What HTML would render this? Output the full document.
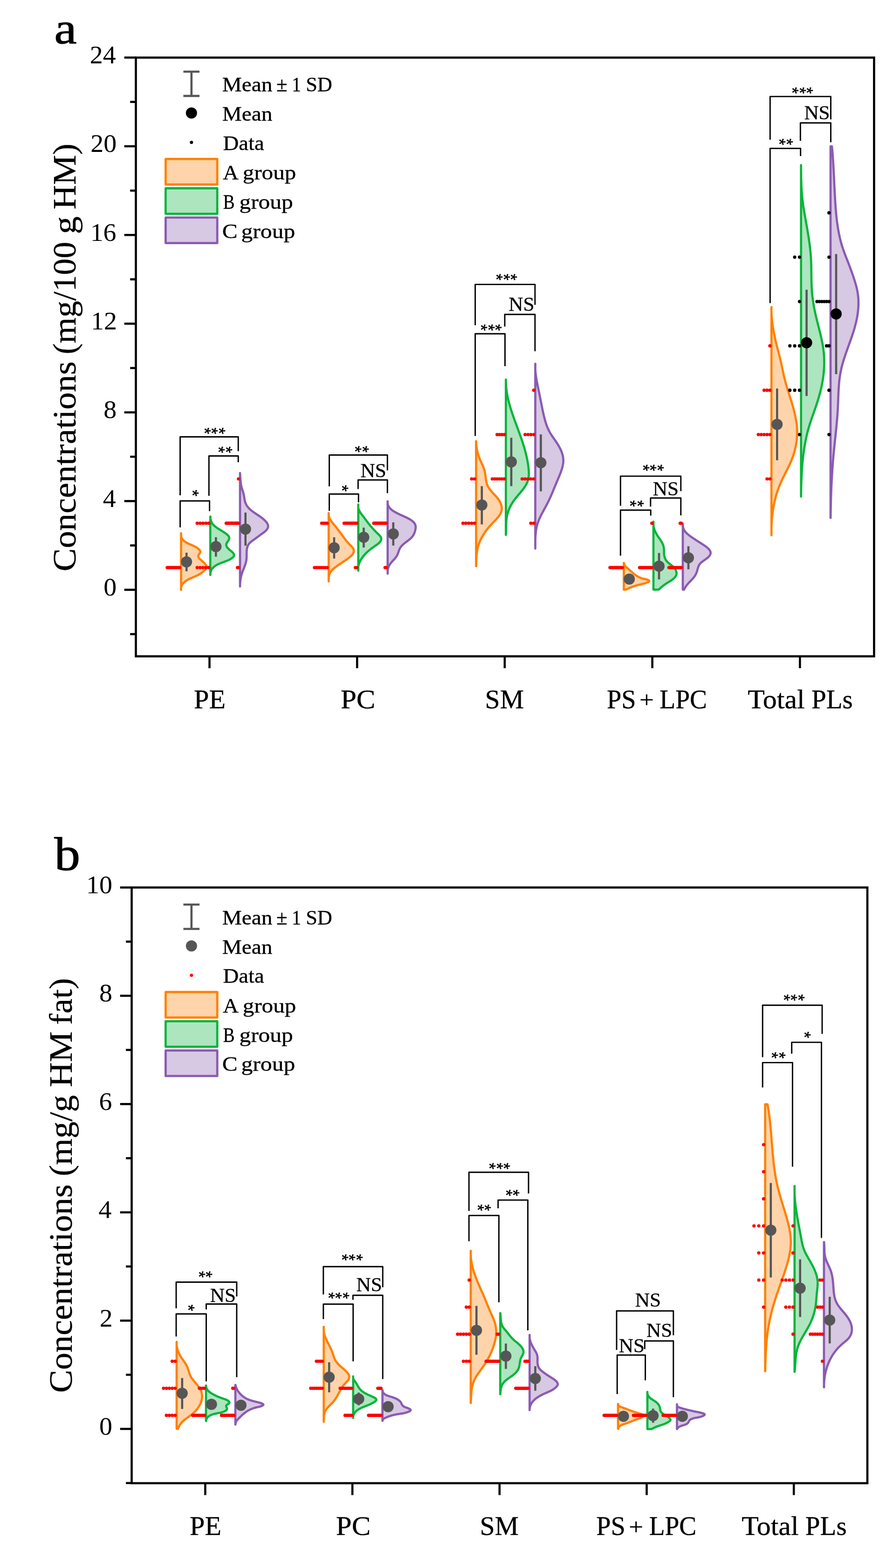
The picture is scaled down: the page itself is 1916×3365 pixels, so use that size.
<!DOCTYPE html>
<html lang="en"><head><meta charset="utf-8"><title>Phospholipid concentrations</title>
<style>html,body{margin:0;padding:0;background:#fff}svg{display:block}text{white-space:pre}</style></head>
<body>
<svg width="1916" height="3365" viewBox="0 0 1916 3365" font-family='"Liberation Serif", serif' fill="#000">
<rect width="1916" height="3365" fill="#fff"/>
<path d="M388.61,1144.3 388.5,1146.56 388.5,1148.7 388.55,1150.73 389.06,1152.64 389.81,1154.44 390.77,1156.14 391.91,1157.73 393.22,1159.21 394.66,1160.6 396.22,1161.89 397.88,1163.08 399.6,1164.18 401.37,1165.19 403.18,1166.13 405.03,1167.01 406.89,1167.84 408.77,1168.65 410.65,1169.44 412.53,1170.24 414.4,1171.05 416.24,1171.89 418.06,1172.79 419.84,1173.74 421.57,1174.78 423.25,1175.9 424.86,1177.14 426.41,1178.5 427.87,1180 429.17,1181.65 429.94,1183.4 429.74,1185.23 428.69,1187.08 427.34,1188.95 426.19,1190.8 425.49,1192.61 425.42,1194.37 425.97,1196.06 427.02,1197.69 428.41,1199.25 430.02,1200.75 431.7,1202.19 433.32,1203.57 434.78,1204.9 436.15,1206.22 437.48,1207.58 438.83,1209.03 440.26,1210.6 441.79,1212.32 443.11,1214.15 443.87,1216 443.75,1217.81 442.89,1219.54 441.58,1221.2 440.12,1222.76 438.62,1224.24 437.11,1225.65 435.56,1226.97 433.99,1228.22 432.39,1229.41 430.75,1230.54 429.09,1231.61 427.38,1232.62 425.65,1233.6 423.88,1234.53 422.07,1235.42 420.22,1236.29 418.33,1237.13 416.42,1237.95 414.5,1238.77 412.57,1239.59 410.64,1240.42 408.73,1241.26 406.83,1242.14 404.97,1243.05 403.16,1244 401.39,1245 399.69,1246.07 398.06,1247.2 396.5,1248.42 395.04,1249.72 393.68,1251.11 392.43,1252.61 391.29,1254.22 390.29,1255.96 389.44,1257.81 388.8,1259.75 388.5,1261.77 388.5,1263.84 388.61,1265.93 L388.5,1265.93 L388.5,1144.3 Z" fill="#ffd4ab" stroke="#ff8000" stroke-width="4.7" stroke-linejoin="round"/>
<circle cx="385.2" cy="1218.11" r="3.6" fill="#f00"/>
<circle cx="383" cy="1218.11" r="3.6" fill="#f00"/>
<circle cx="380.8" cy="1218.11" r="3.6" fill="#f00"/>
<circle cx="378.6" cy="1218.11" r="3.6" fill="#f00"/>
<circle cx="376.4" cy="1218.11" r="3.6" fill="#f00"/>
<circle cx="374.2" cy="1218.11" r="3.6" fill="#f00"/>
<circle cx="372" cy="1218.11" r="3.6" fill="#f00"/>
<circle cx="369.8" cy="1218.11" r="3.6" fill="#f00"/>
<circle cx="367.6" cy="1218.11" r="3.6" fill="#f00"/>
<circle cx="365.4" cy="1218.11" r="3.6" fill="#f00"/>
<circle cx="363.2" cy="1218.11" r="3.6" fill="#f00"/>
<circle cx="361" cy="1218.11" r="3.6" fill="#f00"/>
<circle cx="358.8" cy="1218.11" r="3.6" fill="#f00"/>
<line x1="400.2" y1="1186" x2="400.2" y2="1226" stroke="#565656" stroke-width="4.6" stroke-linecap="butt"/>
<circle cx="400.2" cy="1205.8" r="12" fill="#565656"/>
<path d="M451.47,1108.49 451.43,1110.81 451.58,1112.99 451.9,1115.06 452.39,1117.02 453.03,1118.87 453.82,1120.62 454.75,1122.27 455.8,1123.84 456.97,1125.34 458.24,1126.76 459.62,1128.12 461.08,1129.42 462.62,1130.67 464.22,1131.88 465.89,1133.05 467.6,1134.2 469.36,1135.32 471.14,1136.43 472.94,1137.53 474.75,1138.63 476.56,1139.74 478.36,1140.86 480.14,1142.01 481.88,1143.18 483.59,1144.38 485.26,1145.63 486.86,1146.93 488.39,1148.28 489.78,1149.71 490.9,1151.23 491.64,1152.87 491.87,1154.64 491.55,1156.54 490.81,1158.5 489.77,1160.45 488.53,1162.33 487.29,1164.14 486.24,1165.91 485.59,1167.68 485.44,1169.45 485.76,1171.22 486.48,1172.97 487.53,1174.69 488.83,1176.36 490.33,1177.96 491.95,1179.49 493.62,1180.92 495.28,1182.26 496.89,1183.57 498.41,1184.91 499.8,1186.35 501.03,1187.94 502,1189.73 502.42,1191.58 501.97,1193.32 500.79,1194.91 499.24,1196.36 497.6,1197.67 495.91,1198.86 494.2,1199.94 492.45,1200.93 490.67,1201.83 488.86,1202.66 487.03,1203.43 485.17,1204.16 483.3,1204.86 481.4,1205.54 479.5,1206.21 477.58,1206.89 475.65,1207.6 473.71,1208.34 471.78,1209.12 469.85,1209.96 467.94,1210.85 466.07,1211.8 464.26,1212.82 462.5,1213.91 460.83,1215.07 459.25,1216.31 457.77,1217.63 456.41,1219.03 455.18,1220.53 454.1,1222.12 453.18,1223.81 452.44,1225.61 451.88,1227.51 451.52,1229.52 451.38,1231.65 451.47,1233.9 L451.2,1233.9 L451.2,1108.49 Z" fill="#ade5bf" stroke="#0ab43c" stroke-width="4.7" stroke-linejoin="round"/>
<circle cx="447.9" cy="1122.93" r="3.6" fill="#f00"/>
<circle cx="441.7" cy="1122.93" r="3.6" fill="#f00"/>
<circle cx="435.5" cy="1122.93" r="3.6" fill="#f00"/>
<circle cx="429.3" cy="1122.93" r="3.6" fill="#f00"/>
<circle cx="423.1" cy="1122.93" r="3.6" fill="#f00"/>
<circle cx="447.9" cy="1218.11" r="3.6" fill="#f00"/>
<circle cx="441.7" cy="1218.11" r="3.6" fill="#f00"/>
<circle cx="435.5" cy="1218.11" r="3.6" fill="#f00"/>
<circle cx="429.3" cy="1218.11" r="3.6" fill="#f00"/>
<circle cx="423.1" cy="1218.11" r="3.6" fill="#f00"/>
<line x1="463.3" y1="1152.9" x2="463.3" y2="1194.6" stroke="#565656" stroke-width="4.6" stroke-linecap="butt"/>
<circle cx="463.3" cy="1173" r="12" fill="#565656"/>
<path d="M515,1015.11 515.06,1017.1 515.18,1019.11 515.3,1021.12 515.43,1023.14 515.56,1025.16 515.7,1027.18 515.86,1029.2 516.04,1031.22 516.24,1033.24 516.48,1035.25 516.75,1037.25 517.07,1039.24 517.43,1041.23 517.84,1043.2 518.3,1045.15 518.82,1047.09 519.39,1049.01 519.98,1050.93 520.59,1052.85 521.19,1054.77 521.76,1056.7 522.3,1058.64 522.78,1060.6 523.19,1062.59 523.55,1064.59 523.88,1066.6 524.2,1068.61 524.53,1070.62 524.9,1072.62 525.31,1074.59 525.8,1076.54 526.37,1078.45 527.06,1080.32 527.88,1082.14 528.84,1083.91 529.92,1085.61 531.1,1087.26 532.37,1088.83 533.7,1090.34 535.09,1091.78 536.53,1093.16 538.02,1094.49 539.56,1095.77 541.13,1097.01 542.74,1098.22 544.37,1099.39 546.03,1100.54 547.71,1101.68 549.4,1102.8 551.1,1103.92 552.8,1105.04 554.5,1106.17 556.2,1107.31 557.88,1108.47 559.55,1109.66 561.2,1110.88 562.82,1112.13 564.41,1113.43 565.96,1114.78 567.48,1116.19 568.95,1117.65 570.36,1119.19 571.68,1120.79 572.87,1122.44 573.86,1124.13 574.63,1125.87 575.12,1127.63 575.28,1129.42 575.08,1131.21 574.54,1132.99 573.7,1134.72 572.62,1136.37 571.32,1137.93 569.85,1139.42 568.25,1140.83 566.55,1142.18 564.8,1143.49 563.04,1144.75 561.3,1145.98 559.62,1147.18 557.99,1148.37 556.4,1149.55 554.84,1150.72 553.28,1151.88 551.73,1153.05 550.16,1154.22 548.56,1155.4 546.91,1156.59 545.21,1157.8 543.47,1159.03 541.72,1160.3 540,1161.6 538.33,1162.95 536.75,1164.35 535.3,1165.81 534,1167.35 532.88,1168.95 531.95,1170.63 531.19,1172.38 530.58,1174.19 530.1,1176.05 529.75,1177.96 529.49,1179.91 529.32,1181.9 529.22,1183.92 529.17,1185.96 529.15,1188.02 529.14,1190.09 529.14,1192.17 529.11,1194.24 529.05,1196.3 528.94,1198.35 528.76,1200.37 528.49,1202.37 528.14,1204.35 527.71,1206.29 527.21,1208.22 526.64,1210.13 526.03,1212.02 525.38,1213.9 524.69,1215.77 523.97,1217.63 523.24,1219.49 522.5,1221.36 521.77,1223.22 521.04,1225.09 520.33,1226.97 519.65,1228.86 519.01,1230.77 518.42,1232.7 517.87,1234.64 517.38,1236.61 516.94,1238.59 516.55,1240.59 516.2,1242.59 515.9,1244.6 515.65,1246.62 515.44,1248.64 515.26,1250.66 515.13,1252.68 515.03,1254.69 515,1256.69 515,1258.68 L515,1258.68 L515,1015.11 Z" fill="#d7c8e3" stroke="#8a5bb0" stroke-width="4.7" stroke-linejoin="round"/>
<circle cx="511.7" cy="1027.75" r="3.6" fill="#f00"/>
<circle cx="511.7" cy="1122.93" r="3.6" fill="#f00"/>
<circle cx="509.5" cy="1122.93" r="3.6" fill="#f00"/>
<circle cx="507.3" cy="1122.93" r="3.6" fill="#f00"/>
<circle cx="505.1" cy="1122.93" r="3.6" fill="#f00"/>
<circle cx="502.9" cy="1122.93" r="3.6" fill="#f00"/>
<circle cx="500.7" cy="1122.93" r="3.6" fill="#f00"/>
<circle cx="498.5" cy="1122.93" r="3.6" fill="#f00"/>
<circle cx="496.3" cy="1122.93" r="3.6" fill="#f00"/>
<circle cx="494.1" cy="1122.93" r="3.6" fill="#f00"/>
<circle cx="491.9" cy="1122.93" r="3.6" fill="#f00"/>
<circle cx="489.7" cy="1122.93" r="3.6" fill="#f00"/>
<circle cx="487.5" cy="1122.93" r="3.6" fill="#f00"/>
<circle cx="485.3" cy="1122.93" r="3.6" fill="#f00"/>
<circle cx="511.7" cy="1218.11" r="3.6" fill="#f00"/>
<circle cx="509.5" cy="1218.11" r="3.6" fill="#f00"/>
<line x1="526.7" y1="1100" x2="526.7" y2="1171" stroke="#565656" stroke-width="4.6" stroke-linecap="butt"/>
<circle cx="526.7" cy="1135.6" r="12" fill="#565656"/>
<path d="M705.2,1101.1 705.2,1103.3 705.2,1105.4 705.48,1107.41 705.98,1109.35 706.64,1111.21 707.44,1113.01 708.37,1114.76 709.4,1116.46 710.52,1118.12 711.72,1119.75 712.96,1121.36 714.24,1122.96 715.54,1124.55 716.84,1126.14 718.14,1127.74 719.44,1129.34 720.73,1130.94 722.01,1132.55 723.29,1134.16 724.55,1135.77 725.81,1137.38 727.06,1139 728.29,1140.62 729.51,1142.23 730.72,1143.85 731.91,1145.47 733.08,1147.08 734.24,1148.7 735.4,1150.32 736.55,1151.93 737.71,1153.54 738.88,1155.14 740.07,1156.75 741.28,1158.34 742.52,1159.94 743.8,1161.52 745.13,1163.1 746.5,1164.67 747.93,1166.23 749.42,1167.79 750.95,1169.33 752.49,1170.88 753.98,1172.44 755.37,1174.01 756.62,1175.61 757.67,1177.23 758.47,1178.9 758.99,1180.61 759.16,1182.38 758.98,1184.19 758.47,1185.99 757.68,1187.76 756.63,1189.44 755.36,1191.05 753.91,1192.57 752.33,1194.03 750.66,1195.42 748.93,1196.77 747.19,1198.06 745.46,1199.32 743.75,1200.54 742.05,1201.73 740.36,1202.89 738.69,1204.04 737.02,1205.16 735.36,1206.28 733.71,1207.39 732.06,1208.49 730.42,1209.6 728.77,1210.71 727.13,1211.84 725.49,1212.97 723.84,1214.13 722.19,1215.32 720.54,1216.53 718.89,1217.78 717.27,1219.07 715.68,1220.4 714.16,1221.79 712.7,1223.23 711.34,1224.73 710.08,1226.31 708.95,1227.96 707.96,1229.69 707.13,1231.51 706.47,1233.42 705.97,1235.4 705.61,1237.44 705.37,1239.52 705.22,1241.6 705.2,1243.67 705.2,1245.7 705.2,1247.66 L705.2,1247.66 L705.2,1101.1 Z" fill="#ffd4ab" stroke="#ff8000" stroke-width="4.7" stroke-linejoin="round"/>
<circle cx="701.9" cy="1122.93" r="3.6" fill="#f00"/>
<circle cx="698.03" cy="1122.93" r="3.6" fill="#f00"/>
<circle cx="694.15" cy="1122.93" r="3.6" fill="#f00"/>
<circle cx="690.28" cy="1122.93" r="3.6" fill="#f00"/>
<circle cx="701.9" cy="1218.11" r="3.6" fill="#f00"/>
<circle cx="698.03" cy="1218.11" r="3.6" fill="#f00"/>
<circle cx="694.15" cy="1218.11" r="3.6" fill="#f00"/>
<circle cx="690.28" cy="1218.11" r="3.6" fill="#f00"/>
<circle cx="686.4" cy="1218.11" r="3.6" fill="#f00"/>
<circle cx="682.53" cy="1218.11" r="3.6" fill="#f00"/>
<circle cx="678.65" cy="1218.11" r="3.6" fill="#f00"/>
<circle cx="674.78" cy="1218.11" r="3.6" fill="#f00"/>
<line x1="716.9" y1="1153" x2="716.9" y2="1198.7" stroke="#565656" stroke-width="4.6" stroke-linecap="butt"/>
<circle cx="716.9" cy="1175.6" r="12" fill="#565656"/>
<path d="M768.7,1082.66 768.7,1084.89 768.7,1087.02 768.7,1089.07 769,1091.03 769.6,1092.93 770.34,1094.76 771.2,1096.54 772.16,1098.28 773.22,1099.97 774.34,1101.64 775.52,1103.29 776.74,1104.92 777.98,1106.55 779.23,1108.18 780.48,1109.82 781.71,1111.46 782.95,1113.12 784.18,1114.77 785.4,1116.43 786.63,1118.08 787.86,1119.72 789.09,1121.35 790.33,1122.98 791.58,1124.58 792.83,1126.17 794.1,1127.73 795.37,1129.28 796.67,1130.79 797.97,1132.29 799.3,1133.78 800.65,1135.25 802.02,1136.71 803.41,1138.17 804.83,1139.63 806.28,1141.09 807.76,1142.55 809.26,1144.03 810.81,1145.51 812.37,1147.02 813.89,1148.54 815.29,1150.1 816.48,1151.71 817.4,1153.36 817.95,1155.08 818.06,1156.86 817.69,1158.71 816.93,1160.54 815.86,1162.3 814.57,1163.92 813.1,1165.39 811.51,1166.76 809.83,1168.05 808.09,1169.27 806.34,1170.48 804.6,1171.67 802.89,1172.87 801.19,1174.07 799.53,1175.28 797.88,1176.5 796.26,1177.73 794.66,1178.98 793.09,1180.24 791.54,1181.53 790.02,1182.84 788.52,1184.18 787.05,1185.55 785.61,1186.96 784.19,1188.4 782.81,1189.88 781.45,1191.4 780.13,1192.96 778.85,1194.56 777.62,1196.19 776.44,1197.86 775.32,1199.57 774.26,1201.32 773.26,1203.1 772.34,1204.91 771.5,1206.75 770.74,1208.63 770.07,1210.54 769.49,1212.48 769.01,1214.45 768.7,1216.44 768.7,1218.47 768.7,1220.52 768.7,1222.6 768.7,1224.7 L768.7,1224.7 L768.7,1082.66 Z" fill="#ade5bf" stroke="#0ab43c" stroke-width="4.7" stroke-linejoin="round"/>
<circle cx="765.4" cy="1122.93" r="3.6" fill="#f00"/>
<circle cx="762.4" cy="1122.93" r="3.6" fill="#f00"/>
<circle cx="759.4" cy="1122.93" r="3.6" fill="#f00"/>
<circle cx="756.4" cy="1122.93" r="3.6" fill="#f00"/>
<circle cx="753.4" cy="1122.93" r="3.6" fill="#f00"/>
<circle cx="750.4" cy="1122.93" r="3.6" fill="#f00"/>
<circle cx="747.4" cy="1122.93" r="3.6" fill="#f00"/>
<circle cx="744.4" cy="1122.93" r="3.6" fill="#f00"/>
<circle cx="741.4" cy="1122.93" r="3.6" fill="#f00"/>
<circle cx="738.4" cy="1122.93" r="3.6" fill="#f00"/>
<circle cx="765.4" cy="1218.11" r="3.6" fill="#f00"/>
<circle cx="762.4" cy="1218.11" r="3.6" fill="#f00"/>
<line x1="780.4" y1="1132.3" x2="780.4" y2="1175" stroke="#565656" stroke-width="4.6" stroke-linecap="butt"/>
<circle cx="780.4" cy="1153" r="12" fill="#565656"/>
<path d="M831.73,1075.87 831.7,1078.12 831.7,1080.26 832.04,1082.28 832.62,1084.19 833.41,1086 834.38,1087.7 835.53,1089.31 836.82,1090.83 838.25,1092.26 839.78,1093.61 841.4,1094.89 843.09,1096.1 844.83,1097.24 846.6,1098.33 848.39,1099.36 850.18,1100.35 851.97,1101.29 853.78,1102.2 855.58,1103.07 857.4,1103.93 859.22,1104.77 861.04,1105.6 862.88,1106.42 864.72,1107.25 866.57,1108.08 868.42,1108.93 870.29,1109.81 872.16,1110.71 874.04,1111.64 875.93,1112.61 877.81,1113.63 879.66,1114.7 881.46,1115.83 883.19,1117.02 884.82,1118.27 886.34,1119.6 887.71,1121 888.93,1122.48 889.97,1124.05 890.8,1125.72 891.41,1127.48 891.77,1129.34 891.88,1131.31 891.77,1133.35 891.47,1135.43 891.03,1137.53 890.49,1139.62 889.86,1141.67 889.15,1143.67 888.33,1145.6 887.41,1147.47 886.37,1149.24 885.21,1150.91 883.94,1152.5 882.58,1154 881.14,1155.43 879.62,1156.8 878.05,1158.13 876.44,1159.41 874.8,1160.67 873.15,1161.9 871.49,1163.14 869.85,1164.37 868.23,1165.62 866.64,1166.89 865.11,1168.2 863.64,1169.55 862.25,1170.96 860.96,1172.44 859.76,1173.99 858.69,1175.63 857.74,1177.37 856.92,1179.19 856.18,1181.09 855.49,1183.03 854.82,1184.99 854.14,1186.94 853.4,1188.87 852.58,1190.75 851.64,1192.55 850.57,1194.28 849.41,1195.95 848.17,1197.56 846.86,1199.13 845.51,1200.67 844.13,1202.19 842.74,1203.7 841.36,1205.21 840.01,1206.74 838.71,1208.29 837.47,1209.88 836.32,1211.52 835.27,1213.21 834.35,1214.97 833.56,1216.81 832.93,1218.74 832.45,1220.74 832.1,1222.79 831.87,1224.87 831.74,1226.95 831.7,1229.02 831.73,1231.04 L831.7,1231.04 L831.7,1075.87 Z" fill="#d7c8e3" stroke="#8a5bb0" stroke-width="4.7" stroke-linejoin="round"/>
<circle cx="828.4" cy="1122.93" r="3.6" fill="#f00"/>
<circle cx="826.2" cy="1122.93" r="3.6" fill="#f00"/>
<circle cx="824" cy="1122.93" r="3.6" fill="#f00"/>
<circle cx="821.8" cy="1122.93" r="3.6" fill="#f00"/>
<circle cx="819.6" cy="1122.93" r="3.6" fill="#f00"/>
<circle cx="817.4" cy="1122.93" r="3.6" fill="#f00"/>
<circle cx="815.2" cy="1122.93" r="3.6" fill="#f00"/>
<circle cx="813" cy="1122.93" r="3.6" fill="#f00"/>
<circle cx="810.8" cy="1122.93" r="3.6" fill="#f00"/>
<circle cx="808.6" cy="1122.93" r="3.6" fill="#f00"/>
<circle cx="806.4" cy="1122.93" r="3.6" fill="#f00"/>
<circle cx="804.2" cy="1122.93" r="3.6" fill="#f00"/>
<circle cx="802" cy="1122.93" r="3.6" fill="#f00"/>
<circle cx="828.4" cy="1218.11" r="3.6" fill="#f00"/>
<circle cx="826.2" cy="1218.11" r="3.6" fill="#f00"/>
<line x1="843.8" y1="1121" x2="843.8" y2="1170.8" stroke="#565656" stroke-width="4.6" stroke-linecap="butt"/>
<circle cx="843.8" cy="1145.8" r="12" fill="#565656"/>
<path d="M1021.62,946.79 1021.65,948.82 1021.71,950.84 1021.83,952.86 1021.98,954.88 1022.18,956.89 1022.42,958.89 1022.71,960.89 1023.03,962.88 1023.39,964.86 1023.8,966.84 1024.24,968.8 1024.72,970.76 1025.23,972.71 1025.78,974.64 1026.37,976.57 1027,978.49 1027.66,980.39 1028.35,982.28 1029.07,984.16 1029.83,986.03 1030.62,987.89 1031.43,989.73 1032.26,991.57 1033.1,993.4 1033.94,995.23 1034.77,997.07 1035.58,998.91 1036.37,1000.75 1037.13,1002.61 1037.85,1004.48 1038.52,1006.37 1039.13,1008.28 1039.68,1010.22 1040.16,1012.18 1040.57,1014.16 1040.92,1016.16 1041.23,1018.18 1041.51,1020.21 1041.77,1022.25 1042.01,1024.29 1042.27,1026.32 1042.54,1028.34 1042.84,1030.34 1043.18,1032.33 1043.57,1034.3 1044.03,1036.23 1044.56,1038.13 1045.19,1039.99 1045.92,1041.8 1046.75,1043.57 1047.69,1045.3 1048.72,1046.99 1049.82,1048.64 1051,1050.26 1052.24,1051.86 1053.54,1053.43 1054.88,1054.99 1056.25,1056.54 1057.64,1058.07 1059.06,1059.6 1060.47,1061.13 1061.89,1062.66 1063.29,1064.2 1064.67,1065.75 1066.01,1067.32 1067.32,1068.91 1068.58,1070.52 1069.77,1072.16 1070.9,1073.84 1071.94,1075.55 1072.9,1077.3 1073.77,1079.09 1074.53,1080.92 1075.18,1082.77 1075.71,1084.65 1076.12,1086.54 1076.4,1088.45 1076.55,1090.35 1076.55,1092.26 1076.4,1094.16 1076.09,1096.04 1075.62,1097.9 1074.98,1099.74 1074.18,1101.55 1073.25,1103.33 1072.19,1105.08 1071.03,1106.79 1069.78,1108.47 1068.48,1110.11 1067.12,1111.71 1065.73,1113.28 1064.3,1114.83 1062.86,1116.35 1061.41,1117.85 1059.96,1119.34 1058.52,1120.81 1057.09,1122.29 1055.69,1123.76 1054.32,1125.23 1052.96,1126.71 1051.63,1128.19 1050.32,1129.69 1049.03,1131.2 1047.75,1132.72 1046.49,1134.27 1045.25,1135.84 1044.03,1137.43 1042.83,1139.03 1041.65,1140.67 1040.49,1142.32 1039.36,1143.98 1038.26,1145.67 1037.18,1147.38 1036.13,1149.11 1035.1,1150.85 1034.12,1152.62 1033.16,1154.39 1032.24,1156.19 1031.35,1158 1030.5,1159.83 1029.69,1161.68 1028.92,1163.54 1028.19,1165.42 1027.5,1167.31 1026.86,1169.21 1026.26,1171.13 1025.71,1173.07 1025.2,1175.01 1024.75,1176.97 1024.34,1178.94 1023.97,1180.92 1023.64,1182.91 1023.35,1184.91 1023.1,1186.92 1022.87,1188.93 1022.68,1190.94 1022.51,1192.97 1022.36,1194.99 1022.24,1197.01 1022.13,1199.04 1022.04,1201.06 1021.97,1203.09 1021.9,1205.11 1021.84,1207.13 1021.78,1209.14 1021.73,1211.15 1021.68,1213.15 1021.62,1215.14 L1021.5,1215.14 L1021.5,946.79 Z" fill="#ffd4ab" stroke="#ff8000" stroke-width="4.7" stroke-linejoin="round"/>
<circle cx="1018.2" cy="1027.75" r="3.6" fill="#f00"/>
<circle cx="1012" cy="1027.75" r="3.6" fill="#f00"/>
<circle cx="1018.2" cy="1122.93" r="3.6" fill="#f00"/>
<circle cx="1012" cy="1122.93" r="3.6" fill="#f00"/>
<circle cx="1005.8" cy="1122.93" r="3.6" fill="#f00"/>
<circle cx="999.6" cy="1122.93" r="3.6" fill="#f00"/>
<circle cx="993.4" cy="1122.93" r="3.6" fill="#f00"/>
<line x1="1033.8" y1="1043.3" x2="1033.8" y2="1125.4" stroke="#565656" stroke-width="4.6" stroke-linecap="butt"/>
<circle cx="1033.8" cy="1083.7" r="12" fill="#565656"/>
<path d="M1085.4,814.57 1085.4,816.63 1085.4,818.68 1085.43,820.72 1085.5,822.76 1085.6,824.8 1085.72,826.82 1085.87,828.85 1086.04,830.86 1086.24,832.87 1086.46,834.88 1086.7,836.88 1086.96,838.88 1087.25,840.88 1087.56,842.86 1087.89,844.85 1088.24,846.83 1088.6,848.8 1088.99,850.78 1089.4,852.75 1089.82,854.71 1090.26,856.67 1090.72,858.63 1091.2,860.58 1091.69,862.53 1092.19,864.48 1092.71,866.42 1093.25,868.37 1093.8,870.3 1094.36,872.24 1094.93,874.17 1095.52,876.1 1096.11,878.03 1096.72,879.96 1097.34,881.88 1097.96,883.8 1098.6,885.72 1099.24,887.64 1099.9,889.56 1100.56,891.47 1101.22,893.39 1101.9,895.3 1102.57,897.21 1103.26,899.12 1103.95,901.03 1104.64,902.93 1105.34,904.84 1106.03,906.75 1106.74,908.65 1107.44,910.56 1108.14,912.46 1108.85,914.37 1109.55,916.27 1110.26,918.18 1110.96,920.08 1111.66,921.99 1112.36,923.89 1113.06,925.8 1113.76,927.7 1114.45,929.61 1115.14,931.52 1115.82,933.43 1116.5,935.34 1117.18,937.25 1117.85,939.16 1118.51,941.07 1119.16,942.99 1119.81,944.91 1120.46,946.83 1121.09,948.75 1121.72,950.67 1122.34,952.59 1122.95,954.52 1123.54,956.45 1124.13,958.38 1124.71,960.31 1125.28,962.25 1125.84,964.19 1126.38,966.13 1126.92,968.08 1127.44,970.02 1127.94,971.97 1128.44,973.93 1128.92,975.89 1129.38,977.85 1129.83,979.81 1130.27,981.78 1130.68,983.75 1131.09,985.73 1131.47,987.71 1131.84,989.7 1132.19,991.68 1132.53,993.68 1132.84,995.68 1133.14,997.68 1133.42,999.69 1133.67,1001.7 1133.91,1003.72 1134.13,1005.74 1134.32,1007.76 1134.48,1009.79 1134.61,1011.82 1134.69,1013.85 1134.73,1015.87 1134.71,1017.88 1134.63,1019.88 1134.48,1021.87 1134.26,1023.85 1133.95,1025.81 1133.56,1027.75 1133.08,1029.67 1132.52,1031.56 1131.87,1033.43 1131.14,1035.28 1130.34,1037.1 1129.46,1038.9 1128.51,1040.66 1127.49,1042.41 1126.41,1044.12 1125.28,1045.82 1124.11,1047.49 1122.9,1049.14 1121.65,1050.78 1120.38,1052.39 1119.08,1053.99 1117.77,1055.58 1116.45,1057.16 1115.12,1058.73 1113.78,1060.3 1112.45,1061.87 1111.12,1063.44 1109.81,1065.01 1108.5,1066.59 1107.22,1068.17 1105.96,1069.77 1104.72,1071.38 1103.5,1073.01 1102.32,1074.65 1101.17,1076.31 1100.05,1078 1098.98,1079.7 1097.93,1081.42 1096.93,1083.16 1095.97,1084.92 1095.04,1086.7 1094.16,1088.5 1093.32,1090.32 1092.52,1092.15 1091.77,1094.01 1091.06,1095.88 1090.39,1097.76 1089.78,1099.67 1089.2,1101.59 1088.68,1103.52 1088.21,1105.47 1087.78,1107.44 1087.41,1109.42 1087.09,1111.42 1086.82,1113.43 1086.59,1115.45 1086.41,1117.48 1086.26,1119.52 1086.15,1121.56 1086.06,1123.61 1085.99,1125.67 1085.94,1127.72 1085.91,1129.77 1085.88,1131.82 1085.86,1133.87 1085.83,1135.91 1085.8,1137.94 1085.76,1139.96 1085.7,1141.96 1085.62,1143.96 1085.52,1145.94 1085.4,1147.9 L1085.4,1147.9 L1085.4,814.57 Z" fill="#ade5bf" stroke="#0ab43c" stroke-width="4.7" stroke-linejoin="round"/>
<circle cx="1082.1" cy="932.57" r="3.6" fill="#f00"/>
<circle cx="1076.93" cy="932.57" r="3.6" fill="#f00"/>
<circle cx="1071.77" cy="932.57" r="3.6" fill="#f00"/>
<circle cx="1066.6" cy="932.57" r="3.6" fill="#f00"/>
<circle cx="1082.1" cy="1027.75" r="3.6" fill="#f00"/>
<circle cx="1076.93" cy="1027.75" r="3.6" fill="#f00"/>
<circle cx="1071.77" cy="1027.75" r="3.6" fill="#f00"/>
<circle cx="1066.6" cy="1027.75" r="3.6" fill="#f00"/>
<circle cx="1061.43" cy="1027.75" r="3.6" fill="#f00"/>
<circle cx="1056.27" cy="1027.75" r="3.6" fill="#f00"/>
<line x1="1097" y1="939.4" x2="1097" y2="1043.3" stroke="#565656" stroke-width="4.6" stroke-linecap="butt"/>
<circle cx="1097" cy="991.3" r="12" fill="#565656"/>
<path d="M1148.5,780.58 1148.5,782.61 1148.5,784.64 1148.5,786.67 1148.5,788.69 1148.5,790.71 1148.5,792.72 1148.62,794.73 1148.78,796.74 1148.97,798.74 1149.17,800.74 1149.4,802.74 1149.65,804.73 1149.92,806.72 1150.2,808.7 1150.5,810.69 1150.82,812.67 1151.15,814.65 1151.5,816.63 1151.85,818.6 1152.22,820.58 1152.6,822.55 1152.99,824.52 1153.38,826.5 1153.78,828.47 1154.19,830.44 1154.6,832.4 1155.01,834.37 1155.42,836.34 1155.84,838.31 1156.25,840.28 1156.67,842.25 1157.08,844.22 1157.49,846.19 1157.89,848.16 1158.29,850.14 1158.68,852.11 1159.07,854.08 1159.46,856.06 1159.85,858.04 1160.23,860.01 1160.62,861.99 1161,863.96 1161.38,865.94 1161.77,867.92 1162.16,869.89 1162.55,871.87 1162.95,873.84 1163.34,875.81 1163.75,877.79 1164.16,879.76 1164.58,881.73 1165,883.7 1165.43,885.66 1165.87,887.63 1166.32,889.59 1166.78,891.55 1167.26,893.51 1167.74,895.47 1168.23,897.42 1168.74,899.38 1169.27,901.32 1169.81,903.26 1170.38,905.19 1170.96,907.12 1171.57,909.03 1172.21,910.94 1172.88,912.83 1173.57,914.71 1174.3,916.57 1175.06,918.42 1175.86,920.25 1176.69,922.07 1177.57,923.86 1178.49,925.64 1179.45,927.39 1180.45,929.13 1181.49,930.85 1182.56,932.55 1183.65,934.24 1184.77,935.92 1185.91,937.6 1187.06,939.27 1188.22,940.94 1189.38,942.6 1190.55,944.27 1191.71,945.95 1192.87,947.63 1194.01,949.32 1195.14,951.02 1196.24,952.73 1197.32,954.47 1198.37,956.22 1199.39,957.98 1200.38,959.77 1201.32,961.57 1202.22,963.39 1203.08,965.22 1203.89,967.06 1204.64,968.92 1205.34,970.79 1205.99,972.68 1206.57,974.57 1207.09,976.47 1207.54,978.39 1207.92,980.31 1208.22,982.24 1208.45,984.18 1208.6,986.12 1208.67,988.07 1208.64,990.02 1208.53,991.98 1208.34,993.94 1208.06,995.9 1207.72,997.86 1207.31,999.82 1206.85,1001.78 1206.34,1003.72 1205.79,1005.66 1205.2,1007.6 1204.57,1009.52 1203.91,1011.44 1203.22,1013.36 1202.51,1015.27 1201.78,1017.17 1201.02,1019.07 1200.25,1020.96 1199.47,1022.85 1198.68,1024.74 1197.88,1026.62 1197.08,1028.5 1196.28,1030.37 1195.49,1032.25 1194.7,1034.12 1193.92,1035.99 1193.14,1037.86 1192.37,1039.72 1191.6,1041.58 1190.83,1043.44 1190.07,1045.3 1189.3,1047.16 1188.54,1049.01 1187.77,1050.86 1187.01,1052.7 1186.24,1054.55 1185.47,1056.39 1184.69,1058.23 1183.9,1060.06 1183.11,1061.89 1182.32,1063.72 1181.51,1065.54 1180.7,1067.36 1179.87,1069.18 1179.04,1070.99 1178.19,1072.8 1177.33,1074.61 1176.45,1076.41 1175.56,1078.21 1174.66,1080 1173.74,1081.79 1172.8,1083.57 1171.85,1085.36 1170.89,1087.14 1169.92,1088.91 1168.95,1090.69 1167.98,1092.47 1167,1094.25 1166.03,1096.03 1165.06,1097.81 1164.1,1099.6 1163.15,1101.39 1162.21,1103.18 1161.29,1104.98 1160.39,1106.78 1159.5,1108.6 1158.64,1110.42 1157.81,1112.24 1157,1114.08 1156.22,1115.93 1155.47,1117.79 1154.76,1119.66 1154.09,1121.54 1153.46,1123.43 1152.87,1125.34 1152.33,1127.26 1151.83,1129.2 1151.39,1131.15 1150.98,1133.12 1150.62,1135.1 1150.29,1137.08 1150,1139.08 1149.75,1141.09 1149.52,1143.1 1149.33,1145.12 1149.16,1147.14 1149.02,1149.17 1148.9,1151.21 1148.8,1153.24 1148.71,1155.27 1148.65,1157.31 1148.59,1159.34 1148.54,1161.37 1148.5,1163.39 1148.5,1165.41 1148.5,1167.43 1148.5,1169.43 1148.5,1171.43 1148.5,1173.42 1148.5,1175.4 1148.5,1177.36 L1148.5,1177.36 L1148.5,780.58 Z" fill="#d7c8e3" stroke="#8a5bb0" stroke-width="4.7" stroke-linejoin="round"/>
<circle cx="1145.2" cy="837.39" r="3.6" fill="#f00"/>
<circle cx="1145.2" cy="932.57" r="3.6" fill="#f00"/>
<circle cx="1139" cy="932.57" r="3.6" fill="#f00"/>
<circle cx="1132.8" cy="932.57" r="3.6" fill="#f00"/>
<circle cx="1126.6" cy="932.57" r="3.6" fill="#f00"/>
<circle cx="1145.2" cy="1027.75" r="3.6" fill="#f00"/>
<circle cx="1139" cy="1027.75" r="3.6" fill="#f00"/>
<circle cx="1132.8" cy="1027.75" r="3.6" fill="#f00"/>
<circle cx="1126.6" cy="1027.75" r="3.6" fill="#f00"/>
<circle cx="1120.4" cy="1027.75" r="3.6" fill="#f00"/>
<circle cx="1145.2" cy="1122.93" r="3.6" fill="#f00"/>
<circle cx="1139" cy="1122.93" r="3.6" fill="#f00"/>
<line x1="1160.4" y1="932.3" x2="1160.4" y2="1054.4" stroke="#565656" stroke-width="4.6" stroke-linecap="butt"/>
<circle cx="1160.4" cy="992.9" r="12" fill="#565656"/>
<path d="M1338.6,1208.04 1339,1210.19 1339.75,1212.08 1340.79,1213.78 1342.05,1215.31 1343.47,1216.73 1344.99,1218.1 1346.55,1219.45 1348.1,1220.81 1349.63,1222.2 1351.17,1223.59 1352.69,1224.99 1354.22,1226.37 1355.76,1227.75 1357.3,1229.1 1358.86,1230.42 1360.44,1231.71 1362.03,1232.95 1363.66,1234.15 1365.31,1235.28 1367,1236.36 1368.72,1237.37 1370.49,1238.32 1372.3,1239.19 1374.16,1239.99 1376.08,1240.72 1378.06,1241.37 1380.1,1241.93 1382.2,1242.41 1384.34,1242.86 1386.47,1243.34 1388.54,1243.94 1390.5,1244.74 1392.2,1245.76 1393.03,1246.89 1392.47,1247.96 1390.9,1248.93 1388.99,1249.81 1387.05,1250.6 1385.09,1251.3 1383.11,1251.93 1381.11,1252.51 1379.11,1253.05 1377.09,1253.55 1375.08,1254.03 1373.07,1254.5 1371.07,1254.98 1369.08,1255.48 1367.1,1256.01 1365.13,1256.56 1363.18,1257.15 1361.24,1257.77 1359.32,1258.42 1357.4,1259.09 1355.49,1259.8 1353.6,1260.53 1351.71,1261.29 1349.83,1262.07 1347.96,1262.88 1346.09,1263.71 1344.23,1264.57 1342.38,1265.45 L1338.5,1265.45 L1338.5,1208.04 Z" fill="#ffd4ab" stroke="#ff8000" stroke-width="4.7" stroke-linejoin="round"/>
<circle cx="1335.2" cy="1218.11" r="3.6" fill="#f00"/>
<circle cx="1333" cy="1218.11" r="3.6" fill="#f00"/>
<circle cx="1330.8" cy="1218.11" r="3.6" fill="#f00"/>
<circle cx="1328.6" cy="1218.11" r="3.6" fill="#f00"/>
<circle cx="1326.4" cy="1218.11" r="3.6" fill="#f00"/>
<circle cx="1324.2" cy="1218.11" r="3.6" fill="#f00"/>
<circle cx="1322" cy="1218.11" r="3.6" fill="#f00"/>
<circle cx="1319.8" cy="1218.11" r="3.6" fill="#f00"/>
<circle cx="1317.6" cy="1218.11" r="3.6" fill="#f00"/>
<circle cx="1315.4" cy="1218.11" r="3.6" fill="#f00"/>
<circle cx="1313.2" cy="1218.11" r="3.6" fill="#f00"/>
<circle cx="1311" cy="1218.11" r="3.6" fill="#f00"/>
<circle cx="1308.8" cy="1218.11" r="3.6" fill="#f00"/>
<line x1="1350.2" y1="1233" x2="1350.2" y2="1252" stroke="#565656" stroke-width="4.6" stroke-linecap="butt"/>
<circle cx="1350.2" cy="1242.7" r="12" fill="#565656"/>
<path d="M1402,1119.64 1402,1121.75 1402,1123.83 1402,1125.88 1402.08,1127.9 1402.43,1129.89 1402.86,1131.85 1403.38,1133.79 1403.98,1135.71 1404.65,1137.6 1405.39,1139.47 1406.2,1141.31 1407.08,1143.13 1408.02,1144.93 1409.01,1146.71 1410.06,1148.47 1411.15,1150.22 1412.29,1151.94 1413.46,1153.66 1414.64,1155.36 1415.82,1157.07 1416.99,1158.78 1418.12,1160.51 1419.2,1162.25 1420.22,1164.01 1421.16,1165.79 1422.01,1167.61 1422.75,1169.47 1423.37,1171.37 1423.85,1173.31 1424.21,1175.3 1424.47,1177.32 1424.62,1179.37 1424.7,1181.43 1424.72,1183.51 1424.74,1185.59 1424.78,1187.66 1424.91,1189.7 1425.15,1191.7 1425.5,1193.67 1425.98,1195.59 1426.59,1197.46 1427.34,1199.26 1428.22,1201 1429.26,1202.67 1430.45,1204.25 1431.8,1205.76 1433.28,1207.2 1434.85,1208.58 1436.5,1209.93 1438.2,1211.26 1439.9,1212.59 1441.59,1213.93 1443.24,1215.3 1444.82,1216.71 1446.29,1218.19 1447.63,1219.75 1448.81,1221.4 1449.81,1223.14 1450.6,1224.97 1451.17,1226.84 1451.5,1228.74 1451.57,1230.64 1451.36,1232.51 1450.86,1234.33 1450.06,1236.08 1448.99,1237.75 1447.71,1239.33 1446.26,1240.83 1444.68,1242.24 1443.01,1243.57 1441.29,1244.82 1439.51,1246 1437.72,1247.15 1435.91,1248.26 1434.12,1249.35 1432.36,1250.44 1430.63,1251.53 1428.94,1252.63 1427.28,1253.75 1425.65,1254.89 1424.05,1256.06 1422.47,1257.26 1420.91,1258.5 1419.37,1259.78 1417.86,1261.11 1416.36,1262.5 1414.87,1263.94 1413.39,1265.45 L1402,1265.45 L1402,1119.64 Z" fill="#ade5bf" stroke="#0ab43c" stroke-width="4.7" stroke-linejoin="round"/>
<circle cx="1398.7" cy="1122.93" r="3.6" fill="#f00"/>
<circle cx="1398.7" cy="1218.11" r="3.6" fill="#f00"/>
<circle cx="1396.5" cy="1218.11" r="3.6" fill="#f00"/>
<circle cx="1394.3" cy="1218.11" r="3.6" fill="#f00"/>
<circle cx="1392.1" cy="1218.11" r="3.6" fill="#f00"/>
<circle cx="1389.9" cy="1218.11" r="3.6" fill="#f00"/>
<circle cx="1387.7" cy="1218.11" r="3.6" fill="#f00"/>
<circle cx="1385.5" cy="1218.11" r="3.6" fill="#f00"/>
<circle cx="1383.3" cy="1218.11" r="3.6" fill="#f00"/>
<circle cx="1381.1" cy="1218.11" r="3.6" fill="#f00"/>
<circle cx="1378.9" cy="1218.11" r="3.6" fill="#f00"/>
<circle cx="1376.7" cy="1218.11" r="3.6" fill="#f00"/>
<circle cx="1374.5" cy="1218.11" r="3.6" fill="#f00"/>
<circle cx="1372.3" cy="1218.11" r="3.6" fill="#f00"/>
<line x1="1414" y1="1186.7" x2="1414" y2="1243.5" stroke="#565656" stroke-width="4.6" stroke-linecap="butt"/>
<circle cx="1414" cy="1215" r="12" fill="#565656"/>
<path d="M1465.22,1124.18 1465.04,1126.45 1465.08,1128.63 1465.33,1130.7 1465.78,1132.67 1466.41,1134.56 1467.21,1136.36 1468.16,1138.08 1469.25,1139.72 1470.46,1141.29 1471.79,1142.81 1473.2,1144.26 1474.7,1145.65 1476.27,1147 1477.88,1148.31 1479.54,1149.58 1481.21,1150.81 1482.89,1152.02 1484.58,1153.2 1486.26,1154.36 1487.95,1155.5 1489.63,1156.63 1491.32,1157.74 1493.01,1158.85 1494.7,1159.94 1496.39,1161.03 1498.09,1162.12 1499.79,1163.2 1501.5,1164.29 1503.21,1165.38 1504.92,1166.48 1506.64,1167.58 1508.37,1168.7 1510.1,1169.84 1511.83,1171 1513.55,1172.19 1515.24,1173.44 1516.89,1174.76 1518.5,1176.17 1520.04,1177.67 1521.49,1179.28 1522.78,1180.98 1523.82,1182.75 1524.5,1184.53 1524.74,1186.32 1524.55,1188.08 1523.99,1189.81 1523.1,1191.5 1521.96,1193.13 1520.6,1194.7 1519.1,1196.19 1517.49,1197.58 1515.82,1198.9 1514.1,1200.16 1512.36,1201.38 1510.63,1202.58 1508.92,1203.78 1507.25,1204.99 1505.65,1206.24 1504.14,1207.55 1502.74,1208.94 1501.47,1210.42 1500.36,1212.02 1499.42,1213.74 1498.62,1215.57 1497.93,1217.48 1497.31,1219.46 1496.74,1221.47 1496.18,1223.51 1495.61,1225.54 1494.99,1227.54 1494.29,1229.49 1493.47,1231.38 1492.55,1233.19 1491.53,1234.93 1490.41,1236.62 1489.22,1238.26 1487.97,1239.85 1486.65,1241.41 1485.29,1242.94 1483.9,1244.45 1482.49,1245.94 1481.06,1247.43 1479.63,1248.92 1478.22,1250.42 1476.82,1251.93 1475.46,1253.46 1474.14,1255.03 1472.88,1256.63 1471.69,1258.28 1470.57,1259.98 1469.54,1261.73 1468.61,1263.56 1467.79,1265.45 L1465,1265.45 L1465,1124.18 Z" fill="#d7c8e3" stroke="#8a5bb0" stroke-width="4.7" stroke-linejoin="round"/>
<circle cx="1461.7" cy="1122.93" r="3.6" fill="#f00"/>
<circle cx="1459.5" cy="1122.93" r="3.6" fill="#f00"/>
<circle cx="1461.7" cy="1218.11" r="3.6" fill="#f00"/>
<circle cx="1459.5" cy="1218.11" r="3.6" fill="#f00"/>
<circle cx="1457.3" cy="1218.11" r="3.6" fill="#f00"/>
<circle cx="1455.1" cy="1218.11" r="3.6" fill="#f00"/>
<circle cx="1452.9" cy="1218.11" r="3.6" fill="#f00"/>
<circle cx="1450.7" cy="1218.11" r="3.6" fill="#f00"/>
<circle cx="1448.5" cy="1218.11" r="3.6" fill="#f00"/>
<circle cx="1446.3" cy="1218.11" r="3.6" fill="#f00"/>
<circle cx="1444.1" cy="1218.11" r="3.6" fill="#f00"/>
<circle cx="1441.9" cy="1218.11" r="3.6" fill="#f00"/>
<circle cx="1439.7" cy="1218.11" r="3.6" fill="#f00"/>
<circle cx="1437.5" cy="1218.11" r="3.6" fill="#f00"/>
<circle cx="1435.3" cy="1218.11" r="3.6" fill="#f00"/>
<line x1="1477" y1="1172.3" x2="1477" y2="1221.7" stroke="#565656" stroke-width="4.6" stroke-linecap="butt"/>
<circle cx="1477" cy="1197" r="12" fill="#565656"/>
<path d="M1655.2,659.12 1655.2,661.15 1655.2,663.17 1655.2,665.2 1655.2,667.22 1655.22,669.24 1655.31,671.26 1655.4,673.27 1655.52,675.28 1655.65,677.3 1655.79,679.31 1655.95,681.31 1656.12,683.32 1656.31,685.32 1656.51,687.33 1656.72,689.33 1656.95,691.32 1657.19,693.32 1657.44,695.32 1657.71,697.31 1657.99,699.3 1658.28,701.29 1658.59,703.28 1658.9,705.27 1659.23,707.25 1659.57,709.24 1659.92,711.22 1660.28,713.2 1660.66,715.18 1661.04,717.15 1661.43,719.13 1661.84,721.1 1662.25,723.08 1662.67,725.05 1663.1,727.02 1663.55,728.99 1664,730.95 1664.45,732.92 1664.92,734.88 1665.4,736.85 1665.88,738.81 1666.37,740.77 1666.87,742.73 1667.37,744.69 1667.88,746.64 1668.39,748.6 1668.91,750.56 1669.42,752.51 1669.94,754.46 1670.45,756.42 1670.96,758.37 1671.47,760.32 1671.98,762.28 1672.48,764.23 1672.98,766.18 1673.47,768.14 1673.95,770.09 1674.42,772.04 1674.88,774 1675.33,775.95 1675.77,777.91 1676.2,779.86 1676.62,781.82 1677.04,783.77 1677.45,785.73 1677.86,787.69 1678.27,789.64 1678.67,791.6 1679.08,793.55 1679.49,795.51 1679.9,797.47 1680.31,799.42 1680.73,801.37 1681.16,803.33 1681.6,805.28 1682.05,807.23 1682.51,809.18 1682.99,811.13 1683.47,813.08 1683.97,815.03 1684.49,816.98 1685.01,818.92 1685.55,820.87 1686.09,822.81 1686.65,824.75 1687.21,826.7 1687.78,828.64 1688.36,830.58 1688.95,832.52 1689.54,834.46 1690.14,836.4 1690.74,838.34 1691.34,840.29 1691.95,842.23 1692.56,844.17 1693.17,846.11 1693.78,848.05 1694.39,849.99 1695.01,851.93 1695.61,853.87 1696.22,855.81 1696.83,857.75 1697.43,859.69 1698.02,861.63 1698.61,863.58 1699.2,865.52 1699.78,867.46 1700.35,869.41 1700.91,871.35 1701.46,873.3 1702.01,875.25 1702.54,877.2 1703.06,879.15 1703.57,881.1 1704.07,883.05 1704.55,885 1705.02,886.96 1705.48,888.91 1705.92,890.87 1706.34,892.83 1706.75,894.79 1707.14,896.75 1707.51,898.71 1707.86,900.68 1708.19,902.65 1708.51,904.62 1708.79,906.59 1709.06,908.56 1709.31,910.54 1709.53,912.51 1709.72,914.49 1709.9,916.47 1710.04,918.46 1710.16,920.44 1710.25,922.43 1710.32,924.42 1710.35,926.42 1710.36,928.42 1710.33,930.41 1710.28,932.41 1710.2,934.42 1710.09,936.42 1709.96,938.42 1709.79,940.42 1709.6,942.43 1709.39,944.43 1709.14,946.43 1708.87,948.43 1708.57,950.43 1708.25,952.42 1707.9,954.41 1707.52,956.4 1707.12,958.39 1706.7,960.37 1706.25,962.35 1705.78,964.32 1705.28,966.29 1704.76,968.25 1704.21,970.21 1703.64,972.16 1703.05,974.1 1702.44,976.04 1701.8,977.97 1701.14,979.89 1700.46,981.8 1699.76,983.71 1699.03,985.6 1698.29,987.49 1697.52,989.36 1696.74,991.23 1695.93,993.08 1695.11,994.93 1694.27,996.77 1693.42,998.6 1692.55,1000.43 1691.67,1002.25 1690.79,1004.07 1689.89,1005.88 1688.99,1007.68 1688.08,1009.48 1687.17,1011.29 1686.25,1013.08 1685.34,1014.88 1684.42,1016.68 1683.51,1018.47 1682.6,1020.27 1681.69,1022.07 1680.79,1023.87 1679.9,1025.67 1679.02,1027.48 1678.15,1029.29 1677.29,1031.11 1676.44,1032.93 1675.61,1034.76 1674.79,1036.59 1674,1038.43 1673.22,1040.28 1672.46,1042.14 1671.72,1044 1670.99,1045.87 1670.29,1047.75 1669.6,1049.63 1668.94,1051.53 1668.29,1053.42 1667.65,1055.33 1667.04,1057.24 1666.44,1059.16 1665.86,1061.08 1665.3,1063.01 1664.75,1064.94 1664.22,1066.88 1663.71,1068.83 1663.21,1070.78 1662.73,1072.73 1662.27,1074.69 1661.82,1076.65 1661.39,1078.62 1660.97,1080.59 1660.57,1082.57 1660.19,1084.55 1659.82,1086.53 1659.46,1088.52 1659.12,1090.51 1658.8,1092.5 1658.49,1094.49 1658.19,1096.49 1657.91,1098.49 1657.64,1100.5 1657.39,1102.5 1657.15,1104.51 1656.92,1106.52 1656.71,1108.53 1656.51,1110.54 1656.32,1112.55 1656.15,1114.56 1655.99,1116.58 1655.84,1118.6 1655.71,1120.61 1655.59,1122.63 1655.47,1124.64 1655.38,1126.66 1655.29,1128.68 1655.22,1130.69 1655.2,1132.71 1655.2,1134.72 1655.2,1136.74 1655.2,1138.75 1655.2,1140.76 1655.2,1142.77 1655.2,1144.78 1655.2,1146.79 1655.2,1148.79 L1655.2,1148.79 L1655.2,659.12 Z" fill="#ffd4ab" stroke="#ff8000" stroke-width="4.7" stroke-linejoin="round"/>
<circle cx="1651.9" cy="742.21" r="3.6" fill="#f00"/>
<circle cx="1651.9" cy="837.39" r="3.6" fill="#f00"/>
<circle cx="1645.7" cy="837.39" r="3.6" fill="#f00"/>
<circle cx="1639.5" cy="837.39" r="3.6" fill="#f00"/>
<circle cx="1651.9" cy="932.57" r="3.6" fill="#f00"/>
<circle cx="1645.7" cy="932.57" r="3.6" fill="#f00"/>
<circle cx="1639.5" cy="932.57" r="3.6" fill="#f00"/>
<circle cx="1633.3" cy="932.57" r="3.6" fill="#f00"/>
<circle cx="1627.1" cy="932.57" r="3.6" fill="#f00"/>
<circle cx="1651.9" cy="1027.75" r="3.6" fill="#f00"/>
<circle cx="1645.7" cy="1027.75" r="3.6" fill="#f00"/>
<line x1="1667.3" y1="833.8" x2="1667.3" y2="987.7" stroke="#565656" stroke-width="4.6" stroke-linecap="butt"/>
<circle cx="1667.3" cy="910.8" r="12" fill="#565656"/>
<path d="M1718.7,354.4 1718.7,356.4 1718.7,358.41 1718.72,360.42 1718.73,362.43 1718.75,364.44 1718.76,366.46 1718.78,368.47 1718.81,370.48 1718.83,372.49 1718.86,374.5 1718.89,376.51 1718.92,378.52 1718.96,380.54 1719.01,382.55 1719.05,384.56 1719.11,386.57 1719.16,388.58 1719.23,390.59 1719.29,392.6 1719.37,394.61 1719.45,396.62 1719.54,398.63 1719.63,400.64 1719.73,402.64 1719.84,404.65 1719.95,406.66 1720.07,408.66 1720.21,410.67 1720.34,412.67 1720.49,414.68 1720.65,416.68 1720.82,418.68 1720.99,420.68 1721.18,422.68 1721.37,424.68 1721.58,426.68 1721.79,428.67 1722.02,430.67 1722.26,432.66 1722.51,434.65 1722.77,436.65 1723.04,438.64 1723.32,440.62 1723.61,442.61 1723.91,444.6 1724.21,446.59 1724.52,448.57 1724.84,450.55 1725.17,452.54 1725.5,454.52 1725.83,456.5 1726.17,458.49 1726.52,460.47 1726.86,462.45 1727.21,464.43 1727.57,466.41 1727.92,468.39 1728.27,470.37 1728.63,472.35 1728.98,474.33 1729.34,476.31 1729.69,478.29 1730.04,480.27 1730.4,482.25 1730.75,484.23 1731.1,486.21 1731.44,488.19 1731.79,490.17 1732.13,492.15 1732.47,494.13 1732.8,496.11 1733.13,498.09 1733.46,500.07 1733.78,502.05 1734.1,504.04 1734.42,506.02 1734.73,508 1735.04,509.99 1735.34,511.97 1735.63,513.96 1735.92,515.94 1736.2,517.93 1736.48,519.92 1736.75,521.9 1737.01,523.89 1737.27,525.88 1737.52,527.87 1737.76,529.86 1737.99,531.85 1738.21,533.85 1738.43,535.84 1738.63,537.84 1738.83,539.83 1739.02,541.83 1739.2,543.83 1739.36,545.82 1739.52,547.82 1739.67,549.83 1739.81,551.83 1739.93,553.83 1740.05,555.84 1740.15,557.84 1740.24,559.85 1740.32,561.86 1740.4,563.87 1740.46,565.88 1740.52,567.89 1740.57,569.9 1740.62,571.91 1740.65,573.92 1740.69,575.94 1740.72,577.95 1740.75,579.97 1740.77,581.98 1740.79,583.99 1740.81,586.01 1740.84,588.02 1740.86,590.04 1740.88,592.05 1740.91,594.07 1740.94,596.08 1740.97,598.1 1741,600.11 1741.04,602.12 1741.09,604.13 1741.14,606.14 1741.21,608.15 1741.27,610.16 1741.35,612.17 1741.44,614.18 1741.53,616.19 1741.64,618.19 1741.76,620.19 1741.89,622.2 1742.04,624.2 1742.2,626.2 1742.37,628.19 1742.55,630.19 1742.74,632.19 1742.95,634.18 1743.17,636.17 1743.4,638.16 1743.65,640.15 1743.9,642.14 1744.17,644.13 1744.45,646.11 1744.74,648.1 1745.05,650.08 1745.36,652.06 1745.69,654.04 1746.03,656.02 1746.37,658 1746.73,659.97 1747.11,661.95 1747.49,663.92 1747.88,665.89 1748.29,667.86 1748.7,669.83 1749.13,671.8 1749.57,673.76 1750.01,675.73 1750.46,677.69 1750.92,679.66 1751.39,681.62 1751.87,683.58 1752.35,685.54 1752.83,687.5 1753.32,689.46 1753.81,691.42 1754.31,693.38 1754.8,695.34 1755.3,697.3 1755.8,699.26 1756.3,701.21 1756.8,703.17 1757.29,705.13 1757.79,707.09 1758.28,709.05 1758.77,711.01 1759.25,712.96 1759.73,714.92 1760.21,716.88 1760.67,718.85 1761.13,720.81 1761.59,722.77 1762.03,724.73 1762.46,726.7 1762.89,728.66 1763.3,730.63 1763.71,732.59 1764.1,734.56 1764.48,736.53 1764.84,738.5 1765.19,740.48 1765.53,742.45 1765.85,744.43 1766.16,746.4 1766.44,748.38 1766.71,750.37 1766.97,752.35 1767.2,754.34 1767.41,756.32 1767.61,758.31 1767.78,760.3 1767.93,762.3 1768.07,764.29 1768.18,766.29 1768.28,768.29 1768.35,770.29 1768.41,772.29 1768.44,774.29 1768.46,776.3 1768.46,778.3 1768.44,780.3 1768.41,782.31 1768.35,784.31 1768.28,786.32 1768.19,788.33 1768.08,790.33 1767.95,792.33 1767.81,794.34 1767.65,796.34 1767.48,798.35 1767.28,800.35 1767.08,802.35 1766.85,804.35 1766.61,806.35 1766.35,808.34 1766.08,810.34 1765.79,812.33 1765.49,814.32 1765.17,816.31 1764.84,818.3 1764.49,820.28 1764.13,822.26 1763.75,824.24 1763.36,826.22 1762.95,828.19 1762.54,830.16 1762.1,832.12 1761.66,834.09 1761.2,836.05 1760.73,838 1760.24,839.95 1759.74,841.9 1759.24,843.84 1758.71,845.79 1758.18,847.72 1757.64,849.66 1757.09,851.59 1756.52,853.52 1755.95,855.44 1755.37,857.36 1754.78,859.28 1754.18,861.2 1753.57,863.12 1752.95,865.03 1752.33,866.94 1751.7,868.85 1751.06,870.76 1750.42,872.67 1749.77,874.57 1749.12,876.47 1748.46,878.37 1747.8,880.28 1747.13,882.18 1746.47,884.07 1745.79,885.97 1745.12,887.87 1744.45,889.77 1743.78,891.67 1743.11,893.57 1742.45,895.47 1741.79,897.37 1741.13,899.27 1740.48,901.18 1739.84,903.08 1739.2,904.99 1738.57,906.9 1737.95,908.81 1737.34,910.73 1736.75,912.64 1736.16,914.56 1735.59,916.49 1735.03,918.41 1734.48,920.34 1733.95,922.28 1733.42,924.21 1732.91,926.15 1732.42,928.09 1731.93,930.04 1731.46,931.98 1730.99,933.93 1730.54,935.89 1730.1,937.84 1729.67,939.8 1729.26,941.76 1728.85,943.72 1728.45,945.68 1728.07,947.65 1727.69,949.62 1727.33,951.59 1726.97,953.57 1726.63,955.54 1726.29,957.52 1725.97,959.5 1725.65,961.48 1725.35,963.46 1725.05,965.45 1724.76,967.44 1724.48,969.42 1724.21,971.41 1723.95,973.41 1723.7,975.4 1723.45,977.39 1723.22,979.39 1722.99,981.39 1722.77,983.39 1722.55,985.39 1722.35,987.39 1722.15,989.39 1721.96,991.39 1721.78,993.4 1721.6,995.4 1721.43,997.41 1721.27,999.41 1721.11,1001.42 1720.96,1003.43 1720.82,1005.44 1720.68,1007.45 1720.55,1009.46 1720.42,1011.47 1720.3,1013.48 1720.19,1015.49 1720.08,1017.5 1719.98,1019.51 1719.88,1021.52 1719.78,1023.54 1719.69,1025.55 1719.61,1027.56 1719.53,1029.57 1719.45,1031.58 1719.38,1033.6 1719.32,1035.61 1719.25,1037.62 1719.19,1039.63 1719.13,1041.64 1719.08,1043.65 1719.03,1045.66 1718.99,1047.67 1718.94,1049.68 1718.9,1051.68 1718.86,1053.69 1718.83,1055.7 1718.79,1057.7 1718.76,1059.71 1718.73,1061.71 1718.71,1063.71 1718.7,1065.71 L1718.7,1065.71 L1718.7,354.4 Z" fill="#ade5bf" stroke="#0ab43c" stroke-width="4.7" stroke-linejoin="round"/>
<circle cx="1715.4" cy="551.85" r="3.6" fill="#000"/>
<circle cx="1705.07" cy="551.85" r="3.6" fill="#000"/>
<circle cx="1715.4" cy="647.03" r="3.6" fill="#000"/>
<circle cx="1715.4" cy="742.21" r="3.6" fill="#000"/>
<circle cx="1705.07" cy="742.21" r="3.6" fill="#000"/>
<circle cx="1694.73" cy="742.21" r="3.6" fill="#000"/>
<circle cx="1715.4" cy="837.39" r="3.6" fill="#000"/>
<circle cx="1705.07" cy="837.39" r="3.6" fill="#000"/>
<circle cx="1694.73" cy="837.39" r="3.6" fill="#000"/>
<circle cx="1715.4" cy="932.57" r="3.6" fill="#000"/>
<line x1="1730.6" y1="621.7" x2="1730.6" y2="849.8" stroke="#565656" stroke-width="4.6" stroke-linecap="butt"/>
<circle cx="1730.6" cy="735.6" r="12" fill="#000"/>
<path d="M1784.94,314.01 1785.14,316.01 1785.33,318.01 1785.52,320.01 1785.7,322.01 1785.88,324.02 1786.05,326.02 1786.21,328.02 1786.38,330.02 1786.53,332.02 1786.69,334.02 1786.84,336.03 1786.98,338.03 1787.12,340.03 1787.26,342.03 1787.39,344.04 1787.52,346.04 1787.65,348.04 1787.78,350.05 1787.9,352.05 1788.02,354.05 1788.13,356.06 1788.24,358.06 1788.36,360.06 1788.46,362.07 1788.57,364.07 1788.68,366.08 1788.78,368.08 1788.88,370.09 1788.98,372.09 1789.08,374.1 1789.17,376.1 1789.27,378.1 1789.37,380.11 1789.46,382.11 1789.55,384.12 1789.65,386.12 1789.74,388.13 1789.83,390.14 1789.93,392.14 1790.02,394.15 1790.11,396.15 1790.21,398.16 1790.3,400.16 1790.39,402.17 1790.49,404.17 1790.59,406.18 1790.68,408.19 1790.78,410.19 1790.89,412.2 1790.99,414.2 1791.09,416.21 1791.2,418.22 1791.31,420.22 1791.42,422.23 1791.53,424.23 1791.64,426.24 1791.76,428.24 1791.88,430.25 1792.01,432.26 1792.13,434.26 1792.26,436.27 1792.4,438.27 1792.53,440.28 1792.68,442.29 1792.82,444.29 1792.97,446.29 1793.13,448.3 1793.29,450.3 1793.46,452.3 1793.63,454.31 1793.81,456.31 1793.99,458.31 1794.18,460.31 1794.38,462.3 1794.59,464.3 1794.8,466.3 1795.02,468.29 1795.25,470.28 1795.48,472.27 1795.73,474.26 1795.98,476.25 1796.24,478.24 1796.51,480.22 1796.8,482.21 1797.09,484.19 1797.39,486.17 1797.7,488.14 1798.02,490.12 1798.35,492.09 1798.7,494.06 1799.05,496.03 1799.42,498 1799.8,499.96 1800.19,501.92 1800.59,503.88 1801.01,505.83 1801.43,507.79 1801.88,509.74 1802.33,511.68 1802.8,513.63 1803.28,515.57 1803.78,517.51 1804.29,519.44 1804.82,521.37 1805.36,523.3 1805.92,525.22 1806.49,527.14 1807.08,529.06 1807.69,530.97 1808.31,532.88 1808.94,534.79 1809.6,536.69 1810.27,538.59 1810.96,540.48 1811.66,542.37 1812.38,544.26 1813.1,546.14 1813.83,548.03 1814.57,549.91 1815.31,551.78 1816.05,553.66 1816.79,555.53 1817.53,557.41 1818.26,559.28 1818.99,561.15 1819.72,563.02 1820.44,564.89 1821.15,566.77 1821.86,568.64 1822.57,570.51 1823.27,572.39 1823.97,574.26 1824.67,576.14 1825.36,578.02 1826.04,579.9 1826.72,581.79 1827.4,583.67 1828.07,585.56 1828.74,587.46 1829.4,589.35 1830.06,591.26 1830.71,593.16 1831.36,595.07 1831.99,596.99 1832.62,598.91 1833.25,600.84 1833.86,602.78 1834.46,604.71 1835.04,606.66 1835.62,608.6 1836.17,610.56 1836.71,612.51 1837.23,614.47 1837.73,616.43 1838.2,618.4 1838.65,620.37 1839.08,622.34 1839.48,624.31 1839.85,626.29 1840.2,628.26 1840.51,630.24 1840.79,632.22 1841.03,634.21 1841.25,636.19 1841.44,638.17 1841.59,640.16 1841.72,642.14 1841.81,644.13 1841.88,646.11 1841.92,648.1 1841.93,650.09 1841.92,652.07 1841.88,654.06 1841.81,656.04 1841.72,658.03 1841.6,660.02 1841.46,662 1841.29,663.99 1841.1,665.97 1840.89,667.95 1840.65,669.93 1840.4,671.91 1840.12,673.89 1839.82,675.87 1839.5,677.85 1839.16,679.82 1838.8,681.79 1838.42,683.76 1838.02,685.73 1837.6,687.7 1837.17,689.66 1836.72,691.62 1836.25,693.58 1835.77,695.53 1835.27,697.49 1834.75,699.44 1834.23,701.38 1833.68,703.33 1833.13,705.27 1832.56,707.2 1831.98,709.13 1831.38,711.06 1830.78,712.99 1830.16,714.91 1829.54,716.83 1828.91,718.75 1828.26,720.66 1827.62,722.58 1826.96,724.49 1826.3,726.39 1825.63,728.3 1824.96,730.2 1824.28,732.11 1823.6,734.01 1822.92,735.91 1822.23,737.81 1821.55,739.71 1820.86,741.6 1820.17,743.5 1819.49,745.4 1818.8,747.29 1818.12,749.19 1817.44,751.08 1816.77,752.98 1816.09,754.88 1815.43,756.78 1814.77,758.67 1814.11,760.57 1813.47,762.47 1812.83,764.38 1812.2,766.28 1811.57,768.18 1810.96,770.09 1810.36,772 1809.77,773.91 1809.2,775.82 1808.63,777.74 1808.08,779.66 1807.54,781.58 1807.02,783.51 1806.51,785.43 1806.02,787.36 1805.55,789.3 1805.09,791.24 1804.65,793.18 1804.23,795.13 1803.84,797.08 1803.46,799.03 1803.1,800.99 1802.76,802.95 1802.44,804.92 1802.13,806.89 1801.85,808.87 1801.58,810.84 1801.33,812.83 1801.09,814.81 1800.87,816.8 1800.66,818.79 1800.46,820.78 1800.28,822.78 1800.11,824.78 1799.95,826.78 1799.8,828.79 1799.66,830.79 1799.53,832.8 1799.4,834.81 1799.29,836.82 1799.18,838.83 1799.08,840.85 1798.98,842.86 1798.89,844.88 1798.81,846.9 1798.72,848.92 1798.64,850.93 1798.57,852.95 1798.49,854.97 1798.42,856.99 1798.34,859.01 1798.27,861.03 1798.19,863.05 1798.11,865.07 1798.03,867.09 1797.95,869.11 1797.86,871.12 1797.77,873.14 1797.67,875.16 1797.57,877.17 1797.46,879.18 1797.34,881.19 1797.22,883.2 1797.09,885.21 1796.96,887.22 1796.82,889.22 1796.68,891.23 1796.53,893.23 1796.37,895.23 1796.21,897.23 1796.05,899.24 1795.89,901.23 1795.71,903.23 1795.54,905.23 1795.36,907.23 1795.18,909.23 1794.99,911.22 1794.81,913.22 1794.62,915.21 1794.42,917.21 1794.23,919.2 1794.03,921.19 1793.83,923.18 1793.62,925.18 1793.42,927.17 1793.21,929.16 1793.01,931.15 1792.8,933.14 1792.59,935.13 1792.38,937.12 1792.17,939.11 1791.96,941.1 1791.75,943.1 1791.54,945.09 1791.33,947.08 1791.12,949.07 1790.91,951.06 1790.7,953.05 1790.49,955.04 1790.29,957.03 1790.08,959.02 1789.88,961.02 1789.68,963.01 1789.48,965 1789.28,967 1789.08,968.99 1788.89,970.99 1788.7,972.98 1788.51,974.98 1788.33,976.97 1788.15,978.97 1787.97,980.97 1787.8,982.97 1787.63,984.97 1787.46,986.97 1787.29,988.97 1787.13,990.97 1786.97,992.97 1786.82,994.98 1786.66,996.98 1786.51,998.98 1786.37,1000.99 1786.22,1002.99 1786.08,1005 1785.94,1007 1785.8,1009.01 1785.67,1011.02 1785.54,1013.02 1785.41,1015.03 1785.29,1017.04 1785.17,1019.05 1785.05,1021.05 1784.93,1023.06 1784.82,1025.07 1784.71,1027.08 1784.6,1029.09 1784.49,1031.1 1784.39,1033.11 1784.29,1035.12 1784.19,1037.12 1784.09,1039.13 1784,1041.14 1783.91,1043.15 1783.82,1045.16 1783.73,1047.17 1783.65,1049.18 1783.57,1051.19 1783.49,1053.2 1783.41,1055.21 1783.34,1057.22 1783.27,1059.23 1783.2,1061.24 1783.13,1063.25 1783.07,1065.26 1783,1067.27 1782.94,1069.28 1782.88,1071.29 1782.83,1073.29 1782.77,1075.3 1782.72,1077.31 1782.67,1079.32 1782.62,1081.32 1782.58,1083.33 1782.54,1085.34 1782.49,1087.34 1782.45,1089.35 1782.42,1091.35 1782.38,1093.36 1782.35,1095.36 1782.31,1097.36 1782.28,1099.37 1782.26,1101.37 1782.23,1103.37 1782.21,1105.37 1782.18,1107.37 1782.16,1109.37 1782.14,1111.37 L1782,1111.37 L1782,314.01 Z" fill="#d7c8e3" stroke="#8a5bb0" stroke-width="4.7" stroke-linejoin="round"/>
<circle cx="1778.7" cy="456.67" r="3.6" fill="#000"/>
<circle cx="1778.7" cy="551.85" r="3.6" fill="#000"/>
<circle cx="1778.7" cy="647.03" r="3.6" fill="#000"/>
<circle cx="1773.53" cy="647.03" r="3.6" fill="#000"/>
<circle cx="1768.37" cy="647.03" r="3.6" fill="#000"/>
<circle cx="1763.2" cy="647.03" r="3.6" fill="#000"/>
<circle cx="1758.03" cy="647.03" r="3.6" fill="#000"/>
<circle cx="1752.87" cy="647.03" r="3.6" fill="#000"/>
<circle cx="1778.7" cy="742.21" r="3.6" fill="#000"/>
<circle cx="1773.53" cy="742.21" r="3.6" fill="#000"/>
<circle cx="1778.7" cy="837.39" r="3.6" fill="#000"/>
<circle cx="1778.7" cy="932.57" r="3.6" fill="#000"/>
<line x1="1794" y1="545.2" x2="1794" y2="802.9" stroke="#565656" stroke-width="4.6" stroke-linecap="butt"/>
<circle cx="1794" cy="673.7" r="12" fill="#000"/>
<path d="M386.5,1063 V937.5 H511.2 V968.3" fill="none" stroke="#000" stroke-width="2.9" stroke-linejoin="round"/>
<text x="425.64 441.19 456.74" y="917.58" rotate="90" font-family='"Liberation Sans", sans-serif' font-size="36.5" stroke="#000" stroke-width="0.5">***</text>
<path d="M448.3,1064 V978.5 H511.2 V992" fill="none" stroke="#000" stroke-width="2.9" stroke-linejoin="round"/>
<text x="456.22 471.77" y="957.98" rotate="90" font-family='"Liberation Sans", sans-serif' font-size="36.5" stroke="#000" stroke-width="0.5">**</text>
<path d="M386.5,1131.7 V1075 H449.6 V1097" fill="none" stroke="#000" stroke-width="2.9" stroke-linejoin="round"/>
<text x="400.19" y="1050.88" rotate="90" font-family='"Liberation Sans", sans-serif' font-size="36.5" stroke="#000" stroke-width="0.5">*</text>
<path d="M706.5,1043.8 V976.5 H831.2 V1009.6" fill="none" stroke="#000" stroke-width="2.9" stroke-linejoin="round"/>
<text x="749.02 764.57" y="956.68" rotate="90" font-family='"Liberation Sans", sans-serif' font-size="36.5" stroke="#000" stroke-width="0.5">**</text>
<path d="M768.3,1049.6 V1030 H831.2 V1058.3" fill="none" stroke="#000" stroke-width="2.9" stroke-linejoin="round"/>
<text font-size="43" stroke="#000" stroke-width="0.35"><tspan x="773.48" y="1024.4" textLength="55.29" lengthAdjust="spacingAndGlyphs">NS</tspan></text>
<path d="M706.5,1096.2 V1060.2 H769.2 V1078" fill="none" stroke="#000" stroke-width="2.9" stroke-linejoin="round"/>
<text x="720.79" y="1040.88" rotate="90" font-family='"Liberation Sans", sans-serif' font-size="36.5" stroke="#000" stroke-width="0.5">*</text>
<path d="M1019.6,697.9 V610.4 H1147.9 V654.2" fill="none" stroke="#000" stroke-width="2.9" stroke-linejoin="round"/>
<text x="1052.24 1067.79 1083.34" y="587.58" rotate="90" font-family='"Liberation Sans", sans-serif' font-size="36.5" stroke="#000" stroke-width="0.5">***</text>
<path d="M1083,700.8 V674.8 H1147.9 V753.7" fill="none" stroke="#000" stroke-width="2.9" stroke-linejoin="round"/>
<text font-size="43" stroke="#000" stroke-width="0.35"><tspan x="1091.28" y="666.9" textLength="55.29" lengthAdjust="spacingAndGlyphs">NS</tspan></text>
<path d="M1019.6,935.6 V716.2 H1083.5 V785.8" fill="none" stroke="#000" stroke-width="2.9" stroke-linejoin="round"/>
<text x="1019.24 1034.79 1050.34" y="695.88" rotate="90" font-family='"Liberation Sans", sans-serif' font-size="36.5" stroke="#000" stroke-width="0.5">***</text>
<path d="M1331.3,1085.4 V1021.9 H1460.8 V1054" fill="none" stroke="#000" stroke-width="2.9" stroke-linejoin="round"/>
<text x="1366.74 1382.29 1397.84" y="996.68" rotate="90" font-family='"Liberation Sans", sans-serif' font-size="36.5" stroke="#000" stroke-width="0.5">***</text>
<path d="M1395.8,1087.3 V1068.8 H1460.8 V1106" fill="none" stroke="#000" stroke-width="2.9" stroke-linejoin="round"/>
<text font-size="43" stroke="#000" stroke-width="0.35"><tspan x="1400.78" y="1062.5" textLength="55.29" lengthAdjust="spacingAndGlyphs">NS</tspan></text>
<path d="M1331.3,1192.5 V1094.8 H1396.2 V1106.5" fill="none" stroke="#000" stroke-width="2.9" stroke-linejoin="round"/>
<text x="1339.32 1354.87" y="1073.58" rotate="90" font-family='"Liberation Sans", sans-serif' font-size="36.5" stroke="#000" stroke-width="0.5">**</text>
<path d="M1652.3,299.8 V207.1 H1782.5 V256.2" fill="none" stroke="#000" stroke-width="2.9" stroke-linejoin="round"/>
<text x="1687.24 1702.79 1718.34" y="187.08" rotate="90" font-family='"Liberation Sans", sans-serif' font-size="36.5" stroke="#000" stroke-width="0.5">***</text>
<path d="M1717.3,302.3 V263.7 H1782.5 V305.2" fill="none" stroke="#000" stroke-width="2.9" stroke-linejoin="round"/>
<text font-size="43" stroke="#000" stroke-width="0.35"><tspan x="1725.38" y="255.8" textLength="55.29" lengthAdjust="spacingAndGlyphs">NS</tspan></text>
<path d="M1652.3,650.6 V318.5 H1717.7 V335" fill="none" stroke="#000" stroke-width="2.9" stroke-linejoin="round"/>
<text x="1659.02 1674.57" y="297.18" rotate="90" font-family='"Liberation Sans", sans-serif' font-size="36.5" stroke="#000" stroke-width="0.5">**</text>
<rect x="291.5" y="123.6" width="1583.9" height="1284.9" fill="none" stroke="#000" stroke-width="4.6"/>
<line x1="266.7" y1="1265.7" x2="291.5" y2="1265.7" stroke="#000" stroke-width="4.6" stroke-linecap="butt"/>
<text font-size="54.3"><tspan x="222.17" y="1278.2" textLength="27.96" lengthAdjust="spacingAndGlyphs">0</tspan></text>
<line x1="266.7" y1="1075.34" x2="291.5" y2="1075.34" stroke="#000" stroke-width="4.6" stroke-linecap="butt"/>
<text font-size="54.3"><tspan x="220.77" y="1087.84" textLength="27.96" lengthAdjust="spacingAndGlyphs">4</tspan></text>
<line x1="266.7" y1="884.98" x2="291.5" y2="884.98" stroke="#000" stroke-width="4.6" stroke-linecap="butt"/>
<text font-size="54.3"><tspan x="222.17" y="897.48" textLength="27.96" lengthAdjust="spacingAndGlyphs">8</tspan></text>
<line x1="266.7" y1="694.62" x2="291.5" y2="694.62" stroke="#000" stroke-width="4.6" stroke-linecap="butt"/>
<text font-size="54.3"><tspan x="195.05" y="707.12" textLength="55.93" lengthAdjust="spacingAndGlyphs">12</tspan></text>
<line x1="266.7" y1="504.26" x2="291.5" y2="504.26" stroke="#000" stroke-width="4.6" stroke-linecap="butt"/>
<text font-size="54.3"><tspan x="193.65" y="516.76" textLength="55.93" lengthAdjust="spacingAndGlyphs">16</tspan></text>
<line x1="266.7" y1="313.9" x2="291.5" y2="313.9" stroke="#000" stroke-width="4.6" stroke-linecap="butt"/>
<text font-size="54.3"><tspan x="194.21" y="326.4" textLength="55.93" lengthAdjust="spacingAndGlyphs">20</tspan></text>
<line x1="266.7" y1="123.54" x2="291.5" y2="123.54" stroke="#000" stroke-width="4.6" stroke-linecap="butt"/>
<text font-size="54.3"><tspan x="192.81" y="136.04" textLength="55.93" lengthAdjust="spacingAndGlyphs">24</tspan></text>
<line x1="279.2" y1="1360.88" x2="291.5" y2="1360.88" stroke="#000" stroke-width="4.6" stroke-linecap="butt"/>
<line x1="279.2" y1="1170.52" x2="291.5" y2="1170.52" stroke="#000" stroke-width="4.6" stroke-linecap="butt"/>
<line x1="279.2" y1="980.16" x2="291.5" y2="980.16" stroke="#000" stroke-width="4.6" stroke-linecap="butt"/>
<line x1="279.2" y1="789.8" x2="291.5" y2="789.8" stroke="#000" stroke-width="4.6" stroke-linecap="butt"/>
<line x1="279.2" y1="599.44" x2="291.5" y2="599.44" stroke="#000" stroke-width="4.6" stroke-linecap="butt"/>
<line x1="279.2" y1="409.08" x2="291.5" y2="409.08" stroke="#000" stroke-width="4.6" stroke-linecap="butt"/>
<line x1="279.2" y1="218.72" x2="291.5" y2="218.72" stroke="#000" stroke-width="4.6" stroke-linecap="butt"/>
<line x1="449.5" y1="1408.5" x2="449.5" y2="1434" stroke="#000" stroke-width="4.6" stroke-linecap="butt"/>
<text font-size="56" stroke="#000" stroke-width="0.35"><tspan x="416.13" y="1519.7" textLength="67.92" lengthAdjust="spacingAndGlyphs">PE</tspan></text>
<line x1="766.2" y1="1408.5" x2="766.2" y2="1434" stroke="#000" stroke-width="4.6" stroke-linecap="butt"/>
<text font-size="56" stroke="#000" stroke-width="0.35"><tspan x="730.95" y="1519.7" textLength="74.42" lengthAdjust="spacingAndGlyphs">PC</tspan></text>
<line x1="1082.9" y1="1408.5" x2="1082.9" y2="1434" stroke="#000" stroke-width="4.6" stroke-linecap="butt"/>
<text font-size="56" stroke="#000" stroke-width="0.35"><tspan x="1040.52" y="1519.7" textLength="83.45" lengthAdjust="spacingAndGlyphs">SM</tspan></text>
<line x1="1399.6" y1="1408.5" x2="1399.6" y2="1434" stroke="#000" stroke-width="4.6" stroke-linecap="butt"/>
<text font-size="56" stroke="#000" stroke-width="0.35"><tspan x="1301.89" y="1519.7" textLength="62.54" lengthAdjust="spacingAndGlyphs">PS</tspan> <tspan x="1371.94" y="1518.1" font-size="48" textLength="30.87" lengthAdjust="spacingAndGlyphs">+</tspan> <tspan x="1415.31" y="1519.7" textLength="101.58" lengthAdjust="spacingAndGlyphs">LPC</tspan></text>
<line x1="1716.3" y1="1408.5" x2="1716.3" y2="1434" stroke="#000" stroke-width="4.6" stroke-linecap="butt"/>
<text font-size="56" stroke="#000" stroke-width="0.35"><tspan x="1604.38" y="1519.7" textLength="122.28" lengthAdjust="spacingAndGlyphs">Total</tspan> <tspan x="1740.96" y="1519.7" textLength="88.83" lengthAdjust="spacingAndGlyphs">PLs</tspan></text>
<text transform="translate(162.3 0) rotate(-90)" y="0" font-size="69" stroke="#000" stroke-width="0.35"><tspan x="-1226.18" textLength="450.62" lengthAdjust="spacingAndGlyphs">Concentrations</tspan> <tspan x="-760.51" textLength="241.67" lengthAdjust="spacingAndGlyphs">(mg/100</tspan> <tspan x="-502.54" textLength="38.28" lengthAdjust="spacingAndGlyphs">g</tspan> <tspan x="-449.48" textLength="141.41" lengthAdjust="spacingAndGlyphs">HM)</tspan></text>
<text font-size="94.5" stroke="#000" stroke-width="1.2"><tspan x="116.61" y="92.8" textLength="48.09" lengthAdjust="spacingAndGlyphs">a</tspan></text>
<line x1="410.8" y1="153.7" x2="410.8" y2="205.9" stroke="#565656" stroke-width="4.6" stroke-linecap="butt"/>
<line x1="393.5" y1="153.7" x2="428" y2="153.7" stroke="#565656" stroke-width="4.6" stroke-linecap="butt"/>
<line x1="393.5" y1="205.9" x2="428" y2="205.9" stroke="#565656" stroke-width="4.6" stroke-linecap="butt"/>
<circle cx="410.8" cy="242.5" r="12" fill="#000"/>
<circle cx="410.8" cy="305.4" r="3.5" fill="#000"/>
<rect x="355.4" y="341.2" width="110.8" height="54.8" fill="#ffd4ab" stroke="#ff8000" stroke-width="4.8" stroke-linejoin="round"/>
<rect x="355.4" y="404" width="110.8" height="54.8" fill="#ade5bf" stroke="#0ab43c" stroke-width="4.8" stroke-linejoin="round"/>
<rect x="355.4" y="466.8" width="110.8" height="54.8" fill="#d7c8e3" stroke="#8a5bb0" stroke-width="4.8" stroke-linejoin="round"/>
<text font-size="43.5" stroke="#000" stroke-width="0.35"><tspan x="476.76" y="196.3" textLength="107.66" lengthAdjust="spacingAndGlyphs">Mean</tspan> <tspan x="593.05" y="196.3" textLength="23.66" lengthAdjust="spacingAndGlyphs">±</tspan> <tspan x="626.33" y="196.3" textLength="19.65" lengthAdjust="spacingAndGlyphs">1</tspan> <tspan x="656.19" y="196.3" textLength="56.74" lengthAdjust="spacingAndGlyphs">SD</tspan></text>
<text font-size="43.5" stroke="#000" stroke-width="0.35"><tspan x="476.76" y="258.9" textLength="107.66" lengthAdjust="spacingAndGlyphs">Mean</tspan></text>
<text font-size="43.5" stroke="#000" stroke-width="0.35"><tspan x="478.57" y="321.8" textLength="88.24" lengthAdjust="spacingAndGlyphs">Data</tspan></text>
<text font-size="43.5" stroke="#000" stroke-width="0.35"><tspan x="478.34" y="385.3" textLength="31.09" lengthAdjust="spacingAndGlyphs">A</tspan> <tspan x="520.66" y="385.3" textLength="114.63" lengthAdjust="spacingAndGlyphs">group</tspan></text>
<text font-size="43.5" stroke="#000" stroke-width="0.35"><tspan x="478.86" y="448.1" textLength="24.82" lengthAdjust="spacingAndGlyphs">B</tspan> <tspan x="513.45" y="448.1" textLength="115.36" lengthAdjust="spacingAndGlyphs">group</tspan></text>
<text font-size="43.5" stroke="#000" stroke-width="0.35"><tspan x="476.8" y="510.7" textLength="32.94" lengthAdjust="spacingAndGlyphs">C</tspan> <tspan x="517.54" y="510.7" textLength="115.77" lengthAdjust="spacingAndGlyphs">group</tspan></text>
<path d="M379,2879.64 379,2881.71 379,2883.76 379.05,2885.8 379.26,2887.82 379.55,2889.83 379.92,2891.83 380.36,2893.8 380.87,2895.76 381.46,2897.69 382.11,2899.61 382.82,2901.5 383.6,2903.36 384.44,2905.2 385.34,2907.02 386.29,2908.8 387.29,2910.56 388.35,2912.29 389.45,2913.98 390.59,2915.66 391.75,2917.33 392.92,2918.98 394.09,2920.64 395.25,2922.3 396.39,2923.98 397.49,2925.67 398.56,2927.39 399.57,2929.14 400.51,2930.94 401.38,2932.77 402.17,2934.66 402.89,2936.59 403.57,2938.54 404.2,2940.5 404.82,2942.48 405.44,2944.44 406.07,2946.39 406.73,2948.3 407.43,2950.18 408.2,2952 409.04,2953.76 409.97,2955.45 410.98,2957.08 412.08,2958.67 413.24,2960.23 414.46,2961.78 415.74,2963.33 417.06,2964.9 418.42,2966.49 419.8,2968.11 421.18,2969.75 422.56,2971.41 423.92,2973.09 425.24,2974.8 426.51,2976.53 427.71,2978.28 428.84,2980.06 429.87,2981.85 430.8,2983.67 431.6,2985.51 432.27,2987.37 432.8,2989.25 433.2,2991.14 433.48,2993.05 433.63,2994.96 433.66,2996.89 433.58,2998.81 433.38,3000.74 433.08,3002.67 432.67,3004.59 432.17,3006.5 431.56,3008.4 430.87,3010.28 430.09,3012.15 429.23,3014 428.29,3015.83 427.27,3017.63 426.18,3019.4 425.02,3021.13 423.8,3022.84 422.52,3024.5 421.19,3026.12 419.81,3027.7 418.37,3029.23 416.9,3030.72 415.39,3032.14 413.84,3033.52 412.26,3034.84 410.66,3036.12 409.04,3037.36 407.41,3038.57 405.77,3039.76 404.13,3040.93 402.5,3042.1 400.88,3043.28 399.27,3044.46 397.69,3045.66 396.14,3046.88 394.62,3048.13 393.15,3049.43 391.72,3050.77 390.34,3052.17 389.02,3053.63 387.77,3055.16 386.59,3056.77 385.48,3058.46 384.45,3060.25 383.51,3062.14 382.67,3064.14 381.92,3066.25 L379,3066.25 L379,2879.64 Z" fill="#ffd4ab" stroke="#ff8000" stroke-width="4.7" stroke-linejoin="round"/>
<circle cx="375.7" cy="2921.26" r="3.6" fill="#f00"/>
<circle cx="369.5" cy="2921.26" r="3.6" fill="#f00"/>
<circle cx="375.7" cy="2979.36" r="3.6" fill="#f00"/>
<circle cx="369.5" cy="2979.36" r="3.6" fill="#f00"/>
<circle cx="363.3" cy="2979.36" r="3.6" fill="#f00"/>
<circle cx="357.1" cy="2979.36" r="3.6" fill="#f00"/>
<circle cx="350.9" cy="2979.36" r="3.6" fill="#f00"/>
<circle cx="375.7" cy="3037.45" r="3.6" fill="#f00"/>
<circle cx="369.5" cy="3037.45" r="3.6" fill="#f00"/>
<circle cx="363.3" cy="3037.45" r="3.6" fill="#f00"/>
<circle cx="357.1" cy="3037.45" r="3.6" fill="#f00"/>
<line x1="390.8" y1="2957.3" x2="390.8" y2="3023.7" stroke="#565656" stroke-width="4.6" stroke-linecap="butt"/>
<circle cx="390.8" cy="2990" r="12" fill="#565656"/>
<path d="M442.06,2973.32 442.2,2975.54 442.61,2977.59 443.28,2979.5 444.16,2981.27 445.25,2982.92 446.51,2984.45 447.93,2985.88 449.47,2987.21 451.11,2988.46 452.83,2989.63 454.6,2990.74 456.4,2991.8 458.21,2992.81 460.03,2993.78 461.87,2994.71 463.72,2995.6 465.58,2996.45 467.44,2997.26 469.32,2998.04 471.2,2998.79 473.09,2999.51 474.99,3000.2 476.89,3000.87 478.8,3001.51 480.72,3002.14 482.64,3002.78 484.56,3003.5 486.5,3004.37 488.44,3005.47 490.38,3006.84 491.92,3008.39 492.51,3009.91 491.77,3011.27 490.12,3012.53 488.12,3013.79 486.33,3015.14 485.33,3016.71 485.45,3018.54 486.22,3020.51 486.98,3022.47 487.07,3024.28 486.13,3025.81 484.54,3027.1 482.77,3028.2 480.96,3029.13 479.12,3029.92 477.24,3030.58 475.33,3031.14 473.39,3031.62 471.41,3032.04 469.41,3032.43 467.38,3032.8 465.33,3033.18 463.25,3033.58 461.15,3034.04 459.04,3034.55 456.96,3035.14 454.93,3035.82 452.96,3036.59 451.08,3037.46 449.32,3038.45 447.69,3039.57 446.22,3040.83 444.94,3042.25 443.85,3043.82 443,3045.57 442.39,3047.5 442.06,3049.63 L442,3049.63 L442,2973.32 Z" fill="#ade5bf" stroke="#0ab43c" stroke-width="4.7" stroke-linejoin="round"/>
<circle cx="438.7" cy="2979.36" r="3.6" fill="#f00"/>
<circle cx="435.1" cy="2979.36" r="3.6" fill="#f00"/>
<circle cx="431.5" cy="2979.36" r="3.6" fill="#f00"/>
<circle cx="427.9" cy="2979.36" r="3.6" fill="#f00"/>
<circle cx="438.7" cy="3037.45" r="3.6" fill="#f00"/>
<circle cx="435.1" cy="3037.45" r="3.6" fill="#f00"/>
<circle cx="431.5" cy="3037.45" r="3.6" fill="#f00"/>
<circle cx="427.9" cy="3037.45" r="3.6" fill="#f00"/>
<circle cx="424.3" cy="3037.45" r="3.6" fill="#f00"/>
<circle cx="420.7" cy="3037.45" r="3.6" fill="#f00"/>
<circle cx="417.1" cy="3037.45" r="3.6" fill="#f00"/>
<circle cx="413.5" cy="3037.45" r="3.6" fill="#f00"/>
<circle cx="453.7" cy="3013.8" r="12" fill="#565656"/>
<path d="M505.22,2972.12 505.66,2974.06 506.22,2975.98 506.89,2977.87 507.67,2979.74 508.55,2981.58 509.53,2983.37 510.6,2985.13 511.75,2986.84 512.99,2988.5 514.31,2990.11 515.69,2991.66 517.15,2993.15 518.66,2994.57 520.23,2995.92 521.86,2997.19 523.53,2998.39 525.24,2999.5 526.99,3000.54 528.78,3001.49 530.6,3002.38 532.45,3003.2 534.33,3003.97 536.23,3004.68 538.15,3005.34 540.1,3005.95 542.05,3006.53 544.02,3007.07 546,3007.59 547.99,3008.08 549.98,3008.56 551.97,3009.02 553.97,3009.49 555.99,3010 558.02,3010.59 560.09,3011.28 562.19,3012.11 564.12,3013.09 565.16,3014.19 564.69,3015.36 563.05,3016.5 560.96,3017.48 558.88,3018.23 556.82,3018.82 554.8,3019.29 552.8,3019.71 550.81,3020.13 548.83,3020.6 546.86,3021.13 544.91,3021.73 542.97,3022.38 541.05,3023.1 539.16,3023.87 537.28,3024.7 535.44,3025.59 533.62,3026.54 531.83,3027.55 530.08,3028.61 528.36,3029.72 526.69,3030.89 525.05,3032.12 523.45,3033.39 521.88,3034.71 520.34,3036.06 518.83,3037.45 517.34,3038.87 515.87,3040.31 514.42,3041.77 512.98,3043.24 511.54,3044.71 510.13,3046.21 508.78,3047.74 507.57,3049.34 506.55,3051.06 505.78,3052.91 505.31,3054.94 505.22,3057.18 L505,3057.18 L505,2972.12 Z" fill="#d7c8e3" stroke="#8a5bb0" stroke-width="4.7" stroke-linejoin="round"/>
<circle cx="501.7" cy="2979.36" r="3.6" fill="#f00"/>
<circle cx="499.5" cy="2979.36" r="3.6" fill="#f00"/>
<circle cx="501.7" cy="3037.45" r="3.6" fill="#f00"/>
<circle cx="499.5" cy="3037.45" r="3.6" fill="#f00"/>
<circle cx="497.3" cy="3037.45" r="3.6" fill="#f00"/>
<circle cx="495.1" cy="3037.45" r="3.6" fill="#f00"/>
<circle cx="492.9" cy="3037.45" r="3.6" fill="#f00"/>
<circle cx="490.7" cy="3037.45" r="3.6" fill="#f00"/>
<circle cx="488.5" cy="3037.45" r="3.6" fill="#f00"/>
<circle cx="486.3" cy="3037.45" r="3.6" fill="#f00"/>
<circle cx="484.1" cy="3037.45" r="3.6" fill="#f00"/>
<circle cx="481.9" cy="3037.45" r="3.6" fill="#f00"/>
<circle cx="479.7" cy="3037.45" r="3.6" fill="#f00"/>
<circle cx="477.5" cy="3037.45" r="3.6" fill="#f00"/>
<circle cx="475.3" cy="3037.45" r="3.6" fill="#f00"/>
<circle cx="517" cy="3015.8" r="12" fill="#565656"/>
<path d="M694.6,2847.38 694.6,2849.46 694.6,2851.53 694.6,2853.57 694.6,2855.59 694.74,2857.59 695.08,2859.56 695.5,2861.52 696,2863.46 696.57,2865.39 697.21,2867.3 697.9,2869.19 698.64,2871.07 699.42,2872.93 700.24,2874.78 701.1,2876.63 701.97,2878.46 702.86,2880.28 703.76,2882.09 704.67,2883.9 705.57,2885.69 706.47,2887.49 707.36,2889.28 708.23,2891.08 709.09,2892.88 709.93,2894.69 710.75,2896.52 711.55,2898.35 712.32,2900.21 713.07,2902.09 713.78,2903.99 714.46,2905.93 715.1,2907.89 715.72,2909.88 716.35,2911.86 717.01,2913.82 717.74,2915.72 718.57,2917.55 719.5,2919.3 720.52,2920.97 721.63,2922.58 722.82,2924.14 724.09,2925.64 725.41,2927.1 726.79,2928.52 728.23,2929.92 729.7,2931.29 731.21,2932.65 732.74,2934.01 734.29,2935.36 735.85,2936.73 737.41,2938.1 738.97,2939.51 740.52,2940.94 742.04,2942.41 743.54,2943.92 744.96,2945.48 746.27,2947.08 747.41,2948.72 748.33,2950.4 749,2952.12 749.35,2953.89 749.35,2955.68 749,2957.5 748.34,2959.3 747.4,2961.05 746.23,2962.74 744.88,2964.37 743.43,2965.95 741.94,2967.5 740.46,2969.05 739.06,2970.6 737.74,2972.16 736.49,2973.73 735.3,2975.33 734.16,2976.95 733.08,2978.6 732.04,2980.28 731.03,2981.99 730.05,2983.72 729.09,2985.47 728.14,2987.23 727.2,2989.01 726.27,2990.79 725.32,2992.56 724.37,2994.33 723.4,2996.1 722.4,2997.84 721.37,2999.57 720.29,3001.27 719.18,3002.95 718.01,3004.59 716.79,3006.19 715.49,3007.75 714.14,3009.27 712.75,3010.76 711.32,3012.23 709.88,3013.68 708.43,3015.13 706.99,3016.57 705.57,3018.03 704.19,3019.51 702.86,3021.01 701.59,3022.55 700.4,3024.13 699.3,3025.76 698.31,3027.45 697.43,3029.2 696.69,3031.04 696.08,3032.96 695.64,3034.96 695.34,3037.05 695.14,3039.18 695.03,3041.33 694.96,3043.47 694.91,3045.57 694.83,3047.6 694.71,3049.54 694.6,3051.36 L694.6,3051.36 L694.6,2847.38 Z" fill="#ffd4ab" stroke="#ff8000" stroke-width="4.7" stroke-linejoin="round"/>
<circle cx="691.3" cy="2921.26" r="3.6" fill="#f00"/>
<circle cx="687.2" cy="2921.26" r="3.6" fill="#f00"/>
<circle cx="683.1" cy="2921.26" r="3.6" fill="#f00"/>
<circle cx="679" cy="2921.26" r="3.6" fill="#f00"/>
<circle cx="691.3" cy="2979.36" r="3.6" fill="#f00"/>
<circle cx="687.2" cy="2979.36" r="3.6" fill="#f00"/>
<circle cx="683.1" cy="2979.36" r="3.6" fill="#f00"/>
<circle cx="679" cy="2979.36" r="3.6" fill="#f00"/>
<circle cx="674.9" cy="2979.36" r="3.6" fill="#f00"/>
<circle cx="670.8" cy="2979.36" r="3.6" fill="#f00"/>
<circle cx="666.7" cy="2979.36" r="3.6" fill="#f00"/>
<line x1="706.2" y1="2923.5" x2="706.2" y2="2988" stroke="#565656" stroke-width="4.6" stroke-linecap="butt"/>
<circle cx="706.2" cy="2955.4" r="12" fill="#565656"/>
<path d="M757.7,2953.9 757.7,2956.16 757.73,2958.19 758.5,2960.02 759.53,2961.74 760.72,2963.38 761.97,2965.01 763.17,2966.69 764.3,2968.43 765.37,2970.21 766.41,2972.01 767.44,2973.82 768.49,2975.61 769.57,2977.37 770.71,2979.07 771.94,2980.7 773.27,2982.24 774.7,2983.69 776.22,2985.04 777.83,2986.32 779.5,2987.51 781.22,2988.64 782.99,2989.7 784.78,2990.69 786.6,2991.64 788.41,2992.53 790.23,2993.38 792.02,2994.19 793.83,2994.99 795.68,2995.81 797.59,2996.68 799.59,2997.61 801.71,2998.64 803.86,2999.78 805.76,3001.03 807.1,3002.36 807.6,3003.76 807.15,3005.17 805.94,3006.53 804.29,3007.83 802.52,3009.04 800.74,3010.15 798.93,3011.18 797.11,3012.14 795.26,3013.04 793.41,3013.89 791.54,3014.69 789.65,3015.47 787.75,3016.23 785.84,3016.97 783.92,3017.72 781.99,3018.48 780.05,3019.27 778.11,3020.09 776.17,3020.94 774.25,3021.85 772.36,3022.81 770.52,3023.83 768.75,3024.91 767.04,3026.07 765.43,3027.3 763.93,3028.62 762.54,3030.04 761.29,3031.55 760.18,3033.17 759.23,3034.9 758.47,3036.74 757.89,3038.71 757.7,3040.81 757.7,3043.05 L757.7,3043.05 L757.7,2953.9 Z" fill="#ade5bf" stroke="#0ab43c" stroke-width="4.7" stroke-linejoin="round"/>
<circle cx="754.4" cy="2979.36" r="3.6" fill="#f00"/>
<circle cx="750.9" cy="2979.36" r="3.6" fill="#f00"/>
<circle cx="747.4" cy="2979.36" r="3.6" fill="#f00"/>
<circle cx="743.9" cy="2979.36" r="3.6" fill="#f00"/>
<circle cx="740.4" cy="2979.36" r="3.6" fill="#f00"/>
<circle cx="736.9" cy="2979.36" r="3.6" fill="#f00"/>
<circle cx="733.4" cy="2979.36" r="3.6" fill="#f00"/>
<circle cx="729.9" cy="2979.36" r="3.6" fill="#f00"/>
<circle cx="754.4" cy="3037.45" r="3.6" fill="#f00"/>
<circle cx="750.9" cy="3037.45" r="3.6" fill="#f00"/>
<circle cx="747.4" cy="3037.45" r="3.6" fill="#f00"/>
<circle cx="743.9" cy="3037.45" r="3.6" fill="#f00"/>
<circle cx="740.4" cy="3037.45" r="3.6" fill="#f00"/>
<line x1="769.6" y1="2988.5" x2="769.6" y2="3015.8" stroke="#565656" stroke-width="4.6" stroke-linecap="butt"/>
<circle cx="769.6" cy="3002.3" r="12" fill="#565656"/>
<path d="M820.82,2983.37 821.12,2985.6 821.75,2987.55 822.68,2989.24 823.89,2990.71 825.32,2991.98 826.94,2993.07 828.73,2994.02 830.64,2994.85 832.63,2995.58 834.67,2996.25 836.72,2996.88 838.75,2997.5 840.75,2998.12 842.72,2998.76 844.65,2999.43 846.54,3000.14 848.39,3000.91 850.2,3001.75 851.97,3002.68 853.69,3003.71 855.36,3004.84 856.99,3006.11 858.5,3007.51 859.82,3009.09 860.85,3010.85 861.68,3012.72 862.58,3014.52 863.72,3016.12 865.1,3017.5 866.7,3018.65 868.48,3019.57 870.41,3020.32 872.46,3021.01 874.59,3021.74 876.75,3022.61 878.85,3023.69 880.51,3024.91 881.23,3026.15 880.68,3027.3 879.18,3028.35 877.31,3029.28 875.38,3030.11 873.43,3030.83 871.45,3031.46 869.46,3032.02 867.45,3032.5 865.43,3032.93 863.41,3033.32 861.37,3033.67 859.33,3033.99 857.29,3034.3 855.25,3034.61 853.21,3034.93 851.19,3035.27 849.17,3035.64 847.16,3036.04 845.17,3036.48 843.19,3036.96 841.22,3037.47 839.26,3038.03 837.32,3038.63 835.39,3039.27 833.47,3039.96 831.57,3040.7 829.68,3041.48 827.81,3042.32 825.95,3043.21 824.14,3044.17 822.55,3045.36 821.37,3046.94 820.82,3049.09 L820.6,3049.09 L820.6,2983.37 Z" fill="#d7c8e3" stroke="#8a5bb0" stroke-width="4.7" stroke-linejoin="round"/>
<circle cx="817.3" cy="2979.36" r="3.6" fill="#f00"/>
<circle cx="815.1" cy="2979.36" r="3.6" fill="#f00"/>
<circle cx="812.9" cy="2979.36" r="3.6" fill="#f00"/>
<circle cx="810.7" cy="2979.36" r="3.6" fill="#f00"/>
<circle cx="817.3" cy="3037.45" r="3.6" fill="#f00"/>
<circle cx="815.1" cy="3037.45" r="3.6" fill="#f00"/>
<circle cx="812.9" cy="3037.45" r="3.6" fill="#f00"/>
<circle cx="810.7" cy="3037.45" r="3.6" fill="#f00"/>
<circle cx="808.5" cy="3037.45" r="3.6" fill="#f00"/>
<circle cx="806.3" cy="3037.45" r="3.6" fill="#f00"/>
<circle cx="804.1" cy="3037.45" r="3.6" fill="#f00"/>
<circle cx="801.9" cy="3037.45" r="3.6" fill="#f00"/>
<circle cx="799.7" cy="3037.45" r="3.6" fill="#f00"/>
<circle cx="797.5" cy="3037.45" r="3.6" fill="#f00"/>
<circle cx="795.3" cy="3037.45" r="3.6" fill="#f00"/>
<circle cx="793.1" cy="3037.45" r="3.6" fill="#f00"/>
<circle cx="790.9" cy="3037.45" r="3.6" fill="#f00"/>
<circle cx="832.7" cy="3018.8" r="12" fill="#565656"/>
<path d="M1010.11,2684.35 1010.03,2686.43 1010,2688.49 1010,2690.55 1010.04,2692.59 1010.12,2694.63 1010.24,2696.66 1010.39,2698.68 1010.58,2700.69 1010.8,2702.7 1011.05,2704.69 1011.34,2706.68 1011.65,2708.66 1012,2710.64 1012.37,2712.6 1012.78,2714.56 1013.21,2716.52 1013.67,2718.47 1014.15,2720.41 1014.66,2722.34 1015.19,2724.27 1015.75,2726.2 1016.33,2728.11 1016.92,2730.03 1017.54,2731.94 1018.18,2733.84 1018.83,2735.74 1019.51,2737.64 1020.2,2739.53 1020.9,2741.42 1021.62,2743.3 1022.35,2745.18 1023.1,2747.06 1023.85,2748.93 1024.62,2750.8 1025.4,2752.67 1026.18,2754.54 1026.98,2756.4 1027.78,2758.26 1028.59,2760.12 1029.4,2761.98 1030.22,2763.84 1031.04,2765.69 1031.86,2767.55 1032.69,2769.4 1033.51,2771.26 1034.34,2773.11 1035.16,2774.96 1035.99,2776.81 1036.8,2778.67 1037.62,2780.52 1038.43,2782.38 1039.23,2784.23 1040.03,2786.09 1040.82,2787.94 1041.6,2789.8 1042.37,2791.66 1043.14,2793.53 1043.89,2795.39 1044.64,2797.26 1045.39,2799.12 1046.14,2800.99 1046.88,2802.85 1047.63,2804.72 1048.38,2806.58 1049.14,2808.45 1049.91,2810.31 1050.69,2812.17 1051.48,2814.03 1052.28,2815.89 1053.1,2817.74 1053.93,2819.6 1054.78,2821.45 1055.63,2823.3 1056.48,2825.15 1057.31,2827.01 1058.11,2828.87 1058.89,2830.74 1059.63,2832.63 1060.33,2834.52 1060.98,2836.42 1061.58,2838.33 1062.14,2840.26 1062.64,2842.19 1063.09,2844.13 1063.49,2846.08 1063.84,2848.04 1064.12,2850 1064.35,2851.98 1064.52,2853.96 1064.62,2855.95 1064.66,2857.95 1064.65,2859.95 1064.57,2861.96 1064.44,2863.97 1064.25,2865.99 1064.01,2868 1063.72,2870.02 1063.38,2872.03 1063,2874.04 1062.58,2876.05 1062.11,2878.05 1061.61,2880.04 1061.08,2882.03 1060.51,2884.01 1059.91,2885.98 1059.28,2887.93 1058.63,2889.88 1057.95,2891.8 1057.25,2893.72 1056.53,2895.62 1055.79,2897.5 1055.03,2899.37 1054.25,2901.22 1053.45,2903.06 1052.63,2904.89 1051.78,2906.7 1050.92,2908.5 1050.04,2910.29 1049.13,2912.07 1048.21,2913.83 1047.27,2915.59 1046.3,2917.33 1045.32,2919.06 1044.31,2920.79 1043.29,2922.5 1042.24,2924.2 1041.17,2925.9 1040.09,2927.59 1038.98,2929.27 1037.85,2930.94 1036.7,2932.6 1035.54,2934.26 1034.36,2935.92 1033.17,2937.57 1031.98,2939.22 1030.78,2940.87 1029.59,2942.53 1028.41,2944.19 1027.23,2945.85 1026.07,2947.52 1024.93,2949.2 1023.82,2950.9 1022.73,2952.6 1021.68,2954.32 1020.66,2956.05 1019.68,2957.8 1018.74,2959.58 1017.85,2961.37 1017.02,2963.18 1016.24,2965.02 1015.52,2966.88 1014.87,2968.77 1014.28,2970.69 1013.75,2972.63 1013.28,2974.6 1012.86,2976.58 1012.5,2978.58 1012.17,2980.6 1011.89,2982.63 1011.64,2984.66 1011.43,2986.71 1011.25,2988.76 1011.1,2990.81 1010.96,2992.86 1010.85,2994.91 1010.74,2996.95 1010.65,2998.99 1010.57,3001.02 1010.49,3003.03 1010.4,3005.03 1010.32,3007.02 1010.22,3008.98 1010.11,3010.92 L1010,3010.92 L1010,2684.35 Z" fill="#ffd4ab" stroke="#ff8000" stroke-width="4.7" stroke-linejoin="round"/>
<circle cx="1006.7" cy="2746.98" r="3.6" fill="#f00"/>
<circle cx="1006.7" cy="2805.07" r="3.6" fill="#f00"/>
<circle cx="1000.5" cy="2805.07" r="3.6" fill="#f00"/>
<circle cx="1006.7" cy="2863.17" r="3.6" fill="#f00"/>
<circle cx="1000.5" cy="2863.17" r="3.6" fill="#f00"/>
<circle cx="994.3" cy="2863.17" r="3.6" fill="#f00"/>
<circle cx="988.1" cy="2863.17" r="3.6" fill="#f00"/>
<circle cx="981.9" cy="2863.17" r="3.6" fill="#f00"/>
<circle cx="1006.7" cy="2921.26" r="3.6" fill="#f00"/>
<circle cx="1000.5" cy="2921.26" r="3.6" fill="#f00"/>
<circle cx="994.3" cy="2921.26" r="3.6" fill="#f00"/>
<line x1="1022.3" y1="2802.5" x2="1022.3" y2="2907.3" stroke="#565656" stroke-width="4.6" stroke-linecap="butt"/>
<circle cx="1022.3" cy="2855" r="12" fill="#565656"/>
<path d="M1073.57,2818.08 1073.75,2820.01 1073.9,2821.99 1074.02,2824.02 1074.14,2826.07 1074.26,2828.15 1074.4,2830.23 1074.58,2832.32 1074.81,2834.39 1075.1,2836.45 1075.47,2838.47 1075.93,2840.46 1076.5,2842.39 1077.19,2844.26 1078.02,2846.07 1079,2847.79 1080.11,2849.44 1081.32,2851.04 1082.61,2852.61 1083.94,2854.16 1085.28,2855.72 1086.6,2857.3 1087.91,2858.9 1089.2,2860.52 1090.48,2862.14 1091.75,2863.76 1093.03,2865.37 1094.32,2866.96 1095.62,2868.52 1096.94,2870.05 1098.29,2871.54 1099.66,2872.98 1101.08,2874.36 1102.53,2875.68 1104.01,2876.97 1105.53,2878.23 1107.08,2879.49 1108.65,2880.77 1110.24,2882.09 1111.84,2883.47 1113.45,2884.92 1115.03,2886.44 1116.56,2888.01 1117.99,2889.63 1119.32,2891.3 1120.49,2893.01 1121.49,2894.76 1122.29,2896.53 1122.84,2898.33 1123.14,2900.14 1123.13,2901.96 1122.81,2903.79 1122.2,2905.62 1121.38,2907.46 1120.43,2909.31 1119.42,2911.19 1118.44,2913.09 1117.57,2915.02 1116.86,2916.99 1116.31,2918.98 1115.87,2921 1115.53,2923.02 1115.24,2925.04 1114.97,2927.05 1114.7,2929.04 1114.37,2931 1113.98,2932.93 1113.47,2934.81 1112.82,2936.64 1112.01,2938.41 1111.06,2940.11 1109.98,2941.76 1108.78,2943.35 1107.47,2944.89 1106.07,2946.37 1104.59,2947.79 1103.04,2949.16 1101.44,2950.48 1099.8,2951.75 1098.12,2952.98 1096.43,2954.19 1094.72,2955.38 1093.02,2956.57 1091.33,2957.76 1089.66,2958.96 1088.02,2960.18 1086.43,2961.44 1084.9,2962.74 1083.43,2964.09 1082.04,2965.51 1080.73,2967 1079.53,2968.57 1078.43,2970.23 1077.45,2971.99 1076.6,2973.87 1075.88,2975.83 1075.27,2977.87 1074.77,2979.95 1074.37,2982.05 1074.06,2984.15 1073.83,2986.22 1073.68,2988.24 1073.6,2990.18 1073.57,2992.03 L1073.3,2992.03 L1073.3,2818.08 Z" fill="#ade5bf" stroke="#0ab43c" stroke-width="4.7" stroke-linejoin="round"/>
<circle cx="1070" cy="2863.17" r="3.6" fill="#f00"/>
<circle cx="1067" cy="2863.17" r="3.6" fill="#f00"/>
<circle cx="1070" cy="2921.26" r="3.6" fill="#f00"/>
<circle cx="1067" cy="2921.26" r="3.6" fill="#f00"/>
<circle cx="1064" cy="2921.26" r="3.6" fill="#f00"/>
<circle cx="1061" cy="2921.26" r="3.6" fill="#f00"/>
<circle cx="1058" cy="2921.26" r="3.6" fill="#f00"/>
<circle cx="1055" cy="2921.26" r="3.6" fill="#f00"/>
<circle cx="1052" cy="2921.26" r="3.6" fill="#f00"/>
<circle cx="1049" cy="2921.26" r="3.6" fill="#f00"/>
<circle cx="1046" cy="2921.26" r="3.6" fill="#f00"/>
<circle cx="1043" cy="2921.26" r="3.6" fill="#f00"/>
<line x1="1085.4" y1="2883.3" x2="1085.4" y2="2937.7" stroke="#565656" stroke-width="4.6" stroke-linecap="butt"/>
<circle cx="1085.4" cy="2910.2" r="12" fill="#565656"/>
<path d="M1136.3,2864.81 1136.3,2866.93 1136.3,2869.02 1136.4,2871.07 1136.68,2873.09 1137.06,2875.07 1137.53,2877.03 1138.1,2878.96 1138.75,2880.86 1139.47,2882.74 1140.27,2884.59 1141.12,2886.43 1142.03,2888.25 1142.99,2890.05 1143.99,2891.84 1145.03,2893.62 1146.08,2895.39 1147.16,2897.15 1148.23,2898.92 1149.26,2900.69 1150.23,2902.48 1151.11,2904.3 1151.88,2906.14 1152.5,2908.03 1152.95,2909.97 1153.22,2911.96 1153.32,2914 1153.32,2916.08 1153.28,2918.17 1153.23,2920.27 1153.24,2922.36 1153.32,2924.44 1153.49,2926.49 1153.77,2928.5 1154.19,2930.45 1154.77,2932.35 1155.53,2934.17 1156.49,2935.91 1157.67,2937.55 1159.03,2939.11 1160.53,2940.58 1162.13,2941.98 1163.77,2943.32 1165.42,2944.61 1167.06,2945.85 1168.69,2947.04 1170.32,2948.2 1171.95,2949.34 1173.59,2950.45 1175.24,2951.54 1176.9,2952.62 1178.58,2953.71 1180.28,2954.79 1182,2955.89 1183.76,2957 1185.55,2958.13 1187.36,2959.3 1189.16,2960.52 1190.9,2961.82 1192.53,2963.22 1194,2964.74 1195.27,2966.41 1196.22,2968.17 1196.71,2969.96 1196.62,2971.72 1195.94,2973.42 1194.82,2975.03 1193.42,2976.55 1191.89,2977.97 1190.31,2979.28 1188.69,2980.5 1187.02,2981.63 1185.32,2982.68 1183.58,2983.67 1181.81,2984.6 1180.01,2985.49 1178.19,2986.35 1176.34,2987.18 1174.48,2988 1172.6,2988.81 1170.71,2989.64 1168.81,2990.47 1166.91,2991.34 1165,2992.23 1163.1,2993.16 1161.22,2994.12 1159.36,2995.11 1157.52,2996.14 1155.71,2997.22 1153.95,2998.33 1152.23,2999.49 1150.57,3000.7 1148.96,3001.96 1147.42,3003.27 1145.95,3004.63 1144.56,3006.05 1143.25,3007.53 1142.04,3009.07 1140.92,3010.67 1139.91,3012.34 1139,3014.08 1138.22,3015.88 1137.56,3017.76 1137.03,3019.71 1136.63,3021.74 1136.38,3023.84 1136.3,3026.03 L1136.3,3026.03 L1136.3,2864.81 Z" fill="#d7c8e3" stroke="#8a5bb0" stroke-width="4.7" stroke-linejoin="round"/>
<circle cx="1133" cy="2921.26" r="3.6" fill="#f00"/>
<circle cx="1130.8" cy="2921.26" r="3.6" fill="#f00"/>
<circle cx="1128.6" cy="2921.26" r="3.6" fill="#f00"/>
<circle cx="1126.4" cy="2921.26" r="3.6" fill="#f00"/>
<circle cx="1133" cy="2979.36" r="3.6" fill="#f00"/>
<circle cx="1130.8" cy="2979.36" r="3.6" fill="#f00"/>
<circle cx="1128.6" cy="2979.36" r="3.6" fill="#f00"/>
<circle cx="1126.4" cy="2979.36" r="3.6" fill="#f00"/>
<circle cx="1124.2" cy="2979.36" r="3.6" fill="#f00"/>
<circle cx="1122" cy="2979.36" r="3.6" fill="#f00"/>
<circle cx="1119.8" cy="2979.36" r="3.6" fill="#f00"/>
<circle cx="1117.6" cy="2979.36" r="3.6" fill="#f00"/>
<circle cx="1115.4" cy="2979.36" r="3.6" fill="#f00"/>
<circle cx="1113.2" cy="2979.36" r="3.6" fill="#f00"/>
<circle cx="1111" cy="2979.36" r="3.6" fill="#f00"/>
<circle cx="1108.8" cy="2979.36" r="3.6" fill="#f00"/>
<circle cx="1106.6" cy="2979.36" r="3.6" fill="#f00"/>
<line x1="1148.5" y1="2932" x2="1148.5" y2="2984.6" stroke="#565656" stroke-width="4.6" stroke-linecap="butt"/>
<circle cx="1148.5" cy="2958.3" r="12" fill="#565656"/>
<path d="M1326.17,3012.88 1326.5,3015.16 1327.5,3016.81 1329.01,3017.99 1330.83,3018.88 1332.79,3019.61 1334.76,3020.34 1336.71,3021.07 1338.65,3021.8 1340.58,3022.53 1342.49,3023.26 1344.4,3023.99 1346.3,3024.72 1348.2,3025.43 1350.1,3026.14 1352,3026.85 1353.9,3027.54 1355.81,3028.21 1357.72,3028.88 1359.65,3029.53 1361.58,3030.18 1363.53,3030.81 1365.5,3031.44 1367.48,3032.07 1369.48,3032.69 1371.51,3033.31 1373.55,3033.93 1375.62,3034.56 1377.72,3035.19 1379.62,3035.88 1380.88,3036.72 1381.04,3037.81 1380.11,3039.11 1378.49,3040.47 1376.53,3041.73 1374.53,3042.8 1372.53,3043.7 1370.53,3044.48 1368.55,3045.18 1366.58,3045.85 1364.64,3046.52 1362.73,3047.21 1360.84,3047.92 1358.97,3048.64 1357.11,3049.38 1355.26,3050.13 1353.4,3050.87 1351.54,3051.62 1349.66,3052.36 1347.77,3053.09 1345.85,3053.81 1343.89,3054.51 1341.9,3055.2 1339.87,3055.86 1337.84,3056.52 1335.84,3057.24 1333.91,3058.03 1332.1,3058.94 1330.44,3060.01 1328.98,3061.26 1327.76,3062.74 1326.8,3064.49 1326.17,3066.52 L1326,3066.52 L1326,3012.88 Z" fill="#ffd4ab" stroke="#ff8000" stroke-width="4.7" stroke-linejoin="round"/>
<circle cx="1322.7" cy="3037.45" r="3.6" fill="#f00"/>
<circle cx="1320.5" cy="3037.45" r="3.6" fill="#f00"/>
<circle cx="1318.3" cy="3037.45" r="3.6" fill="#f00"/>
<circle cx="1316.1" cy="3037.45" r="3.6" fill="#f00"/>
<circle cx="1313.9" cy="3037.45" r="3.6" fill="#f00"/>
<circle cx="1311.7" cy="3037.45" r="3.6" fill="#f00"/>
<circle cx="1309.5" cy="3037.45" r="3.6" fill="#f00"/>
<circle cx="1307.3" cy="3037.45" r="3.6" fill="#f00"/>
<circle cx="1305.1" cy="3037.45" r="3.6" fill="#f00"/>
<circle cx="1302.9" cy="3037.45" r="3.6" fill="#f00"/>
<circle cx="1300.7" cy="3037.45" r="3.6" fill="#f00"/>
<circle cx="1298.5" cy="3037.45" r="3.6" fill="#f00"/>
<circle cx="1296.3" cy="3037.45" r="3.6" fill="#f00"/>
<circle cx="1337.7" cy="3039.4" r="12" fill="#565656"/>
<path d="M1389.02,2987.2 1389.05,2989.54 1389.39,2991.67 1390.01,2993.61 1390.88,2995.37 1391.96,2996.99 1393.24,2998.48 1394.67,2999.86 1396.24,3001.15 1397.91,3002.38 1399.65,3003.56 1401.42,3004.71 1403.21,3005.86 1404.98,3007.02 1406.7,3008.23 1408.35,3009.49 1409.88,3010.83 1411.28,3012.26 1412.53,3013.79 1413.62,3015.43 1414.53,3017.18 1415.27,3019.04 1415.8,3021.02 1416.15,3023.1 1416.44,3025.22 1416.95,3027.23 1417.8,3029.06 1418.93,3030.71 1420.3,3032.2 1421.85,3033.55 1423.54,3034.78 1425.33,3035.93 1427.18,3037.03 1429.05,3038.11 1430.92,3039.21 1432.73,3040.36 1434.45,3041.59 1436.04,3042.93 1437.47,3044.41 1438.52,3046.01 1438.63,3047.56 1437.64,3048.97 1436.07,3050.24 1434.36,3051.4 1432.59,3052.47 1430.78,3053.46 1428.93,3054.37 1427.05,3055.21 1425.13,3056 1423.2,3056.74 1421.24,3057.45 1419.27,3058.13 1417.3,3058.8 1415.32,3059.46 1413.35,3060.13 1411.39,3060.81 1409.45,3061.52 1407.52,3062.26 1405.62,3063.04 1403.75,3063.88 1401.92,3064.79 1400.13,3065.76 1398.39,3066.83 L1389,3066.83 L1389,2987.2 Z" fill="#ade5bf" stroke="#0ab43c" stroke-width="4.7" stroke-linejoin="round"/>
<circle cx="1385.7" cy="3037.45" r="3.6" fill="#f00"/>
<circle cx="1383.5" cy="3037.45" r="3.6" fill="#f00"/>
<circle cx="1381.3" cy="3037.45" r="3.6" fill="#f00"/>
<circle cx="1379.1" cy="3037.45" r="3.6" fill="#f00"/>
<circle cx="1376.9" cy="3037.45" r="3.6" fill="#f00"/>
<circle cx="1374.7" cy="3037.45" r="3.6" fill="#f00"/>
<circle cx="1372.5" cy="3037.45" r="3.6" fill="#f00"/>
<circle cx="1370.3" cy="3037.45" r="3.6" fill="#f00"/>
<circle cx="1368.1" cy="3037.45" r="3.6" fill="#f00"/>
<circle cx="1365.9" cy="3037.45" r="3.6" fill="#f00"/>
<circle cx="1363.7" cy="3037.45" r="3.6" fill="#f00"/>
<circle cx="1361.5" cy="3037.45" r="3.6" fill="#f00"/>
<circle cx="1359.3" cy="3037.45" r="3.6" fill="#f00"/>
<line x1="1401.2" y1="3022.9" x2="1401.2" y2="3053.3" stroke="#565656" stroke-width="4.6" stroke-linecap="butt"/>
<circle cx="1401.2" cy="3037.9" r="12" fill="#565656"/>
<path d="M1452.5,3013.64 1452.5,3015.96 1453.19,3017.73 1454.57,3019.05 1456.35,3020.03 1458.35,3020.8 1460.39,3021.45 1462.38,3022.05 1464.33,3022.63 1466.26,3023.17 1468.18,3023.7 1470.11,3024.21 1472.07,3024.72 1474.05,3025.23 1476.05,3025.73 1478.07,3026.23 1480.09,3026.71 1482.11,3027.19 1484.13,3027.65 1486.13,3028.1 1488.12,3028.54 1490.09,3028.96 1492.03,3029.37 1493.93,3029.75 1495.8,3030.12 1497.68,3030.5 1499.62,3030.9 1501.66,3031.35 1503.88,3031.88 1506.3,3032.52 1508.74,3033.27 1510.76,3034.13 1511.93,3035.08 1511.91,3036.12 1510.89,3037.19 1509.18,3038.23 1507.12,3039.17 1505,3039.96 1502.9,3040.61 1500.83,3041.13 1498.78,3041.58 1496.76,3041.96 1494.75,3042.31 1492.78,3042.67 1490.82,3043.05 1488.88,3043.49 1486.96,3044.02 1485.06,3044.67 1483.18,3045.46 1481.37,3046.44 1479.79,3047.69 1478.58,3049.26 1477.68,3051.06 1476.72,3052.76 1475.5,3054.18 1474.03,3055.35 1472.36,3056.31 1470.54,3057.12 1468.6,3057.82 1466.59,3058.45 1464.54,3059.07 1462.5,3059.72 1460.51,3060.44 1458.62,3061.29 1456.86,3062.3 1455.27,3063.53 1453.9,3065.03 1452.79,3066.83 L1452.5,3066.83 L1452.5,3013.64 Z" fill="#d7c8e3" stroke="#8a5bb0" stroke-width="4.7" stroke-linejoin="round"/>
<circle cx="1449.2" cy="3037.45" r="3.6" fill="#f00"/>
<circle cx="1447" cy="3037.45" r="3.6" fill="#f00"/>
<circle cx="1444.8" cy="3037.45" r="3.6" fill="#f00"/>
<circle cx="1442.6" cy="3037.45" r="3.6" fill="#f00"/>
<circle cx="1440.4" cy="3037.45" r="3.6" fill="#f00"/>
<circle cx="1438.2" cy="3037.45" r="3.6" fill="#f00"/>
<circle cx="1436" cy="3037.45" r="3.6" fill="#f00"/>
<circle cx="1433.8" cy="3037.45" r="3.6" fill="#f00"/>
<circle cx="1431.6" cy="3037.45" r="3.6" fill="#f00"/>
<circle cx="1429.4" cy="3037.45" r="3.6" fill="#f00"/>
<circle cx="1427.2" cy="3037.45" r="3.6" fill="#f00"/>
<circle cx="1425" cy="3037.45" r="3.6" fill="#f00"/>
<circle cx="1422.8" cy="3037.45" r="3.6" fill="#f00"/>
<circle cx="1464" cy="3039.4" r="12" fill="#565656"/>
<path d="M1646.76,2369.89 1647.12,2371.86 1647.48,2373.84 1647.82,2375.82 1648.15,2377.79 1648.48,2379.77 1648.79,2381.76 1649.1,2383.74 1649.4,2385.73 1649.69,2387.71 1649.97,2389.7 1650.24,2391.69 1650.51,2393.68 1650.76,2395.67 1651.01,2397.67 1651.26,2399.66 1651.49,2401.66 1651.72,2403.66 1651.95,2405.66 1652.17,2407.66 1652.38,2409.66 1652.59,2411.66 1652.79,2413.66 1652.99,2415.67 1653.18,2417.67 1653.37,2419.68 1653.55,2421.68 1653.73,2423.69 1653.91,2425.7 1654.09,2427.71 1654.26,2429.71 1654.43,2431.72 1654.59,2433.73 1654.76,2435.74 1654.92,2437.75 1655.08,2439.76 1655.24,2441.77 1655.4,2443.78 1655.55,2445.8 1655.71,2447.81 1655.87,2449.82 1656.02,2451.83 1656.18,2453.84 1656.33,2455.85 1656.49,2457.86 1656.65,2459.87 1656.81,2461.88 1656.97,2463.89 1657.14,2465.9 1657.3,2467.91 1657.47,2469.92 1657.64,2471.93 1657.81,2473.93 1657.99,2475.94 1658.17,2477.95 1658.35,2479.95 1658.54,2481.96 1658.73,2483.96 1658.92,2485.96 1659.12,2487.96 1659.33,2489.97 1659.54,2491.97 1659.76,2493.96 1659.98,2495.96 1660.2,2497.96 1660.44,2499.95 1660.68,2501.95 1660.93,2503.94 1661.18,2505.93 1661.44,2507.92 1661.71,2509.91 1661.99,2511.9 1662.28,2513.88 1662.57,2515.87 1662.87,2517.85 1663.18,2519.83 1663.5,2521.81 1663.83,2523.78 1664.17,2525.76 1664.52,2527.73 1664.88,2529.7 1665.25,2531.67 1665.64,2533.64 1666.03,2535.6 1666.43,2537.57 1666.85,2539.53 1667.27,2541.48 1667.71,2543.44 1668.17,2545.39 1668.63,2547.34 1669.11,2549.29 1669.59,2551.24 1670.09,2553.18 1670.6,2555.13 1671.11,2557.07 1671.64,2559.01 1672.17,2560.94 1672.72,2562.88 1673.27,2564.82 1673.82,2566.75 1674.38,2568.68 1674.95,2570.61 1675.53,2572.55 1676.1,2574.48 1676.68,2576.41 1677.27,2578.34 1677.86,2580.27 1678.45,2582.2 1679.04,2584.12 1679.63,2586.05 1680.23,2587.98 1680.82,2589.91 1681.42,2591.84 1682.01,2593.77 1682.6,2595.71 1683.19,2597.64 1683.78,2599.57 1684.36,2601.51 1684.94,2603.44 1685.52,2605.38 1686.09,2607.32 1686.65,2609.26 1687.21,2611.2 1687.76,2613.14 1688.31,2615.09 1688.85,2617.03 1689.38,2618.98 1689.9,2620.93 1690.41,2622.89 1690.91,2624.84 1691.4,2626.8 1691.87,2628.76 1692.33,2630.72 1692.78,2632.68 1693.21,2634.65 1693.61,2636.62 1694.01,2638.58 1694.37,2640.55 1694.72,2642.52 1695.05,2644.5 1695.35,2646.47 1695.63,2648.44 1695.88,2650.42 1696.1,2652.39 1696.29,2654.37 1696.46,2656.35 1696.59,2658.33 1696.69,2660.31 1696.76,2662.28 1696.79,2664.26 1696.79,2666.24 1696.75,2668.22 1696.69,2670.2 1696.59,2672.18 1696.46,2674.16 1696.3,2676.14 1696.11,2678.12 1695.89,2680.1 1695.65,2682.08 1695.37,2684.06 1695.08,2686.03 1694.76,2688.01 1694.41,2689.98 1694.04,2691.95 1693.65,2693.92 1693.24,2695.89 1692.81,2697.86 1692.36,2699.83 1691.89,2701.79 1691.4,2703.75 1690.9,2705.71 1690.38,2707.67 1689.84,2709.63 1689.29,2711.58 1688.73,2713.53 1688.16,2715.48 1687.57,2717.42 1686.97,2719.37 1686.37,2721.31 1685.75,2723.24 1685.13,2725.17 1684.5,2727.1 1683.87,2729.03 1683.23,2730.95 1682.58,2732.87 1681.93,2734.79 1681.28,2736.7 1680.62,2738.61 1679.95,2740.52 1679.29,2742.43 1678.62,2744.33 1677.95,2746.23 1677.28,2748.13 1676.6,2750.03 1675.93,2751.93 1675.25,2753.82 1674.58,2755.72 1673.9,2757.61 1673.23,2759.51 1672.55,2761.4 1671.88,2763.3 1671.21,2765.19 1670.54,2767.08 1669.87,2768.98 1669.21,2770.87 1668.55,2772.77 1667.89,2774.67 1667.24,2776.56 1666.59,2778.46 1665.95,2780.36 1665.31,2782.27 1664.68,2784.17 1664.06,2786.08 1663.44,2787.98 1662.83,2789.9 1662.22,2791.81 1661.63,2793.73 1661.04,2795.65 1660.46,2797.57 1659.89,2799.49 1659.33,2801.42 1658.77,2803.35 1658.23,2805.29 1657.69,2807.22 1657.16,2809.16 1656.65,2811.11 1656.14,2813.05 1655.63,2815 1655.14,2816.95 1654.66,2818.9 1654.19,2820.85 1653.72,2822.81 1653.27,2824.77 1652.82,2826.73 1652.39,2828.69 1651.96,2830.66 1651.54,2832.63 1651.14,2834.59 1650.74,2836.57 1650.35,2838.54 1649.98,2840.52 1649.61,2842.49 1649.25,2844.47 1648.91,2846.45 1648.57,2848.44 1648.24,2850.42 1647.93,2852.41 1647.62,2854.39 1647.33,2856.38 1647.05,2858.37 1646.77,2860.37 1646.51,2862.36 1646.26,2864.35 1646.02,2866.35 1645.79,2868.35 1645.57,2870.35 1645.36,2872.35 1645.15,2874.35 1644.96,2876.35 1644.77,2878.35 1644.6,2880.36 1644.43,2882.36 1644.26,2884.37 1644.11,2886.37 1643.96,2888.38 1643.82,2890.39 1643.69,2892.39 1643.57,2894.4 1643.45,2896.41 1643.33,2898.42 1643.22,2900.43 1643.12,2902.44 1643.02,2904.45 1642.93,2906.46 1642.84,2908.47 1642.76,2910.49 1642.68,2912.5 1642.6,2914.51 1642.53,2916.52 1642.46,2918.53 1642.4,2920.54 1642.34,2922.55 1642.28,2924.56 1642.22,2926.57 1642.16,2928.58 1642.11,2930.59 1642.06,2932.6 1642.01,2934.61 1641.96,2936.62 1641.91,2938.63 1641.86,2940.63 1641.81,2942.64 L1641.7,2942.64 L1641.7,2369.89 Z" fill="#ffd4ab" stroke="#ff8000" stroke-width="4.7" stroke-linejoin="round"/>
<circle cx="1638.4" cy="2456.5" r="3.6" fill="#f00"/>
<circle cx="1638.4" cy="2514.6" r="3.6" fill="#f00"/>
<circle cx="1638.4" cy="2572.69" r="3.6" fill="#f00"/>
<circle cx="1638.4" cy="2630.79" r="3.6" fill="#f00"/>
<circle cx="1628.07" cy="2630.79" r="3.6" fill="#f00"/>
<circle cx="1617.73" cy="2630.79" r="3.6" fill="#f00"/>
<circle cx="1638.4" cy="2688.88" r="3.6" fill="#f00"/>
<circle cx="1628.07" cy="2688.88" r="3.6" fill="#f00"/>
<circle cx="1638.4" cy="2746.98" r="3.6" fill="#f00"/>
<circle cx="1628.07" cy="2746.98" r="3.6" fill="#f00"/>
<circle cx="1638.4" cy="2805.07" r="3.6" fill="#f00"/>
<line x1="1653.8" y1="2538.7" x2="1653.8" y2="2741.5" stroke="#565656" stroke-width="4.6" stroke-linecap="butt"/>
<circle cx="1653.8" cy="2640" r="12" fill="#565656"/>
<path d="M1704.95,2545.44 1704.87,2547.48 1704.82,2549.51 1704.8,2551.54 1704.8,2553.57 1704.8,2555.6 1704.8,2557.62 1704.84,2559.64 1704.9,2561.65 1704.97,2563.67 1705.06,2565.68 1705.16,2567.69 1705.28,2569.69 1705.42,2571.7 1705.57,2573.7 1705.73,2575.7 1705.91,2577.7 1706.1,2579.69 1706.3,2581.68 1706.51,2583.68 1706.74,2585.67 1706.98,2587.65 1707.22,2589.64 1707.48,2591.63 1707.75,2593.61 1708.03,2595.59 1708.32,2597.58 1708.61,2599.56 1708.91,2601.54 1709.22,2603.51 1709.54,2605.49 1709.87,2607.47 1710.2,2609.44 1710.54,2611.42 1710.88,2613.39 1711.23,2615.37 1711.58,2617.34 1711.94,2619.32 1712.3,2621.29 1712.66,2623.26 1713.03,2625.24 1713.39,2627.21 1713.76,2629.19 1714.14,2631.16 1714.51,2633.13 1714.88,2635.11 1715.26,2637.08 1715.63,2639.06 1716,2641.04 1716.37,2643.01 1716.74,2644.99 1717.11,2646.97 1717.47,2648.95 1717.84,2650.93 1718.19,2652.92 1718.55,2654.9 1718.9,2656.88 1719.26,2658.87 1719.62,2660.85 1720,2662.82 1720.39,2664.79 1720.79,2666.76 1721.22,2668.71 1721.68,2670.66 1722.17,2672.59 1722.69,2674.51 1723.25,2676.42 1723.85,2678.31 1724.49,2680.19 1725.19,2682.05 1725.93,2683.89 1726.72,2685.71 1727.55,2687.52 1728.42,2689.31 1729.32,2691.1 1730.25,2692.87 1731.21,2694.64 1732.19,2696.4 1733.18,2698.16 1734.19,2699.92 1735.21,2701.67 1736.23,2703.43 1737.26,2705.18 1738.28,2706.95 1739.3,2708.71 1740.31,2710.49 1741.3,2712.27 1742.28,2714.07 1743.23,2715.87 1744.17,2717.69 1745.08,2719.51 1745.96,2721.34 1746.81,2723.19 1747.63,2725.04 1748.42,2726.9 1749.17,2728.77 1749.88,2730.65 1750.55,2732.54 1751.17,2734.44 1751.74,2736.34 1752.27,2738.26 1752.74,2740.18 1753.16,2742.12 1753.52,2744.06 1753.82,2746.01 1754.06,2747.97 1754.24,2749.94 1754.34,2751.92 1754.38,2753.9 1754.36,2755.9 1754.28,2757.9 1754.16,2759.91 1754,2761.92 1753.81,2763.93 1753.59,2765.95 1753.37,2767.98 1753.13,2770 1752.9,2772.03 1752.68,2774.06 1752.48,2776.09 1752.29,2778.11 1752.13,2780.14 1751.97,2782.16 1751.82,2784.19 1751.67,2786.21 1751.52,2788.22 1751.36,2790.23 1751.19,2792.24 1751.01,2794.25 1750.8,2796.25 1750.58,2798.24 1750.32,2800.23 1750.03,2802.21 1749.71,2804.19 1749.37,2806.16 1748.99,2808.12 1748.59,2810.08 1748.15,2812.03 1747.69,2813.97 1747.2,2815.91 1746.68,2817.83 1746.13,2819.75 1745.56,2821.66 1744.95,2823.57 1744.32,2825.46 1743.66,2827.35 1742.97,2829.22 1742.25,2831.09 1741.51,2832.94 1740.73,2834.79 1739.93,2836.63 1739.11,2838.46 1738.25,2840.27 1737.37,2842.08 1736.46,2843.87 1735.53,2845.66 1734.57,2847.44 1733.59,2849.2 1732.6,2850.97 1731.59,2852.72 1730.57,2854.47 1729.54,2856.22 1728.51,2857.96 1727.47,2859.7 1726.44,2861.45 1725.4,2863.19 1724.37,2864.93 1723.35,2866.68 1722.34,2868.43 1721.34,2870.19 1720.36,2871.95 1719.4,2873.72 1718.46,2875.49 1717.54,2877.28 1716.65,2879.08 1715.79,2880.88 1714.96,2882.7 1714.17,2884.54 1713.42,2886.38 1712.71,2888.25 1712.04,2890.13 1711.42,2892.02 1710.85,2893.94 1710.32,2895.88 1709.85,2897.83 1709.41,2899.8 1709.02,2901.78 1708.66,2903.77 1708.34,2905.78 1708.05,2907.79 1707.79,2909.82 1707.56,2911.85 1707.34,2913.88 1707.15,2915.92 1706.98,2917.96 1706.82,2920 1706.67,2922.04 1706.53,2924.07 1706.39,2926.11 1706.26,2928.13 1706.13,2930.15 1705.99,2932.16 1705.85,2934.16 1705.7,2936.15 1705.53,2938.13 1705.36,2940.09 1705.16,2942.03 1704.95,2943.96 L1704.8,2943.96 L1704.8,2545.44 Z" fill="#ade5bf" stroke="#0ab43c" stroke-width="4.7" stroke-linejoin="round"/>
<circle cx="1701.5" cy="2630.79" r="3.6" fill="#f00"/>
<circle cx="1701.5" cy="2688.88" r="3.6" fill="#f00"/>
<circle cx="1701.5" cy="2746.98" r="3.6" fill="#f00"/>
<circle cx="1693.75" cy="2746.98" r="3.6" fill="#f00"/>
<circle cx="1686" cy="2746.98" r="3.6" fill="#f00"/>
<circle cx="1678.25" cy="2746.98" r="3.6" fill="#f00"/>
<circle cx="1701.5" cy="2805.07" r="3.6" fill="#f00"/>
<circle cx="1693.75" cy="2805.07" r="3.6" fill="#f00"/>
<circle cx="1686" cy="2805.07" r="3.6" fill="#f00"/>
<circle cx="1701.5" cy="2863.17" r="3.6" fill="#f00"/>
<line x1="1716.7" y1="2702.7" x2="1716.7" y2="2826.3" stroke="#565656" stroke-width="4.6" stroke-linecap="butt"/>
<circle cx="1716.7" cy="2764.6" r="12" fill="#565656"/>
<path d="M1768.08,2665.55 1768.29,2667.53 1768.45,2669.53 1768.56,2671.53 1768.65,2673.55 1768.71,2675.57 1768.76,2677.6 1768.8,2679.62 1768.85,2681.65 1768.91,2683.68 1769,2685.71 1769.11,2687.73 1769.27,2689.74 1769.49,2691.74 1769.76,2693.73 1770.11,2695.71 1770.53,2697.67 1771.04,2699.61 1771.63,2701.54 1772.29,2703.45 1773.01,2705.35 1773.78,2707.24 1774.59,2709.12 1775.43,2710.99 1776.29,2712.85 1777.16,2714.72 1778.04,2716.58 1778.9,2718.43 1779.74,2720.29 1780.55,2722.16 1781.32,2724.03 1782.04,2725.9 1782.71,2727.78 1783.32,2729.68 1783.88,2731.58 1784.39,2733.48 1784.85,2735.4 1785.27,2737.33 1785.64,2739.26 1785.99,2741.21 1786.29,2743.16 1786.57,2745.12 1786.82,2747.09 1787.04,2749.08 1787.25,2751.07 1787.43,2753.07 1787.6,2755.08 1787.76,2757.1 1787.9,2759.13 1788.04,2761.17 1788.19,2763.22 1788.33,2765.27 1788.49,2767.33 1788.66,2769.38 1788.85,2771.43 1789.06,2773.47 1789.3,2775.5 1789.58,2777.52 1789.9,2779.52 1790.26,2781.51 1790.67,2783.47 1791.14,2785.41 1791.66,2787.33 1792.25,2789.21 1792.91,2791.07 1793.65,2792.89 1794.46,2794.67 1795.35,2796.42 1796.3,2798.13 1797.33,2799.82 1798.41,2801.48 1799.54,2803.12 1800.72,2804.73 1801.94,2806.33 1803.19,2807.92 1804.47,2809.49 1805.77,2811.06 1807.09,2812.63 1808.42,2814.19 1809.75,2815.76 1811.07,2817.33 1812.39,2818.91 1813.7,2820.5 1814.98,2822.11 1816.24,2823.74 1817.46,2825.38 1818.64,2827.05 1819.78,2828.75 1820.87,2830.48 1821.9,2832.24 1822.87,2834.04 1823.77,2835.88 1824.59,2837.75 1825.34,2839.64 1826,2841.55 1826.57,2843.49 1827.04,2845.44 1827.41,2847.4 1827.68,2849.36 1827.83,2851.33 1827.87,2853.29 1827.78,2855.24 1827.57,2857.19 1827.22,2859.12 1826.74,2861.03 1826.11,2862.91 1825.34,2864.77 1824.43,2866.58 1823.41,2868.34 1822.26,2870.05 1821.02,2871.68 1819.69,2873.23 1818.28,2874.7 1816.81,2876.08 1815.28,2877.4 1813.73,2878.69 1812.17,2879.97 1810.6,2881.25 1809.05,2882.55 1807.51,2883.87 1805.98,2885.2 1804.48,2886.56 1802.99,2887.94 1801.54,2889.34 1800.1,2890.76 1798.7,2892.22 1797.33,2893.69 1795.99,2895.2 1794.69,2896.73 1793.41,2898.28 1792.17,2899.86 1790.95,2901.46 1789.77,2903.08 1788.62,2904.73 1787.5,2906.39 1786.41,2908.08 1785.36,2909.79 1784.33,2911.51 1783.34,2913.26 1782.38,2915.02 1781.44,2916.8 1780.54,2918.6 1779.68,2920.42 1778.84,2922.25 1778.03,2924.09 1777.26,2925.95 1776.51,2927.82 1775.8,2929.71 1775.12,2931.61 1774.47,2933.52 1773.85,2935.44 1773.27,2937.37 1772.71,2939.32 1772.18,2941.27 1771.69,2943.23 1771.23,2945.19 1770.8,2947.17 1770.4,2949.15 1770.03,2951.14 1769.69,2953.13 1769.39,2955.13 1769.11,2957.13 1768.87,2959.14 1768.65,2961.15 1768.47,2963.16 1768.32,2965.17 1768.2,2967.19 1768.12,2969.2 1768.06,2971.22 1768.03,2973.23 1768.04,2975.24 1768.08,2977.25 L1767.9,2977.25 L1767.9,2665.55 Z" fill="#d7c8e3" stroke="#8a5bb0" stroke-width="4.7" stroke-linejoin="round"/>
<circle cx="1764.6" cy="2746.98" r="3.6" fill="#f00"/>
<circle cx="1759.43" cy="2746.98" r="3.6" fill="#f00"/>
<circle cx="1764.6" cy="2805.07" r="3.6" fill="#f00"/>
<circle cx="1759.43" cy="2805.07" r="3.6" fill="#f00"/>
<circle cx="1754.27" cy="2805.07" r="3.6" fill="#f00"/>
<circle cx="1764.6" cy="2863.17" r="3.6" fill="#f00"/>
<circle cx="1759.43" cy="2863.17" r="3.6" fill="#f00"/>
<circle cx="1754.27" cy="2863.17" r="3.6" fill="#f00"/>
<circle cx="1749.1" cy="2863.17" r="3.6" fill="#f00"/>
<circle cx="1743.93" cy="2863.17" r="3.6" fill="#f00"/>
<circle cx="1738.77" cy="2863.17" r="3.6" fill="#f00"/>
<circle cx="1764.6" cy="2921.26" r="3.6" fill="#f00"/>
<line x1="1780.2" y1="2783" x2="1780.2" y2="2883" stroke="#565656" stroke-width="4.6" stroke-linecap="butt"/>
<circle cx="1780.2" cy="2832.9" r="12" fill="#565656"/>
<path d="M378,2807.7 V2751.5 H507.9 V2782.3" fill="none" stroke="#000" stroke-width="2.9" stroke-linejoin="round"/>
<text x="413.62 429.17" y="2727.88" rotate="90" font-family='"Liberation Sans", sans-serif' font-size="36.5" stroke="#000" stroke-width="0.5">**</text>
<path d="M442.5,2810 V2798.5 H507.9 V2955.4" fill="none" stroke="#000" stroke-width="2.9" stroke-linejoin="round"/>
<text font-size="43" stroke="#000" stroke-width="0.35"><tspan x="450.68" y="2794.4" textLength="55.29" lengthAdjust="spacingAndGlyphs">NS</tspan></text>
<path d="M378,2868.3 V2819.8 H442.5 V2964.4" fill="none" stroke="#000" stroke-width="2.9" stroke-linejoin="round"/>
<text x="391.19" y="2799.38" rotate="90" font-family='"Liberation Sans", sans-serif' font-size="36.5" stroke="#000" stroke-width="0.5">*</text>
<path d="M693.8,2777.9 V2718.3 H821.2 V2762.5" fill="none" stroke="#000" stroke-width="2.9" stroke-linejoin="round"/>
<text x="720.64 736.19 751.74" y="2691.28" rotate="90" font-family='"Liberation Sans", sans-serif' font-size="36.5" stroke="#000" stroke-width="0.5">***</text>
<path d="M757.3,2789.4 V2779.8 H821.2 V2959.6" fill="none" stroke="#000" stroke-width="2.9" stroke-linejoin="round"/>
<text font-size="43" stroke="#000" stroke-width="0.35"><tspan x="764.48" y="2771" textLength="55.29" lengthAdjust="spacingAndGlyphs">NS</tspan></text>
<path d="M693.8,2830.8 V2798.7 H757.7 V2921.5" fill="none" stroke="#000" stroke-width="2.9" stroke-linejoin="round"/>
<text x="691.54 707.09 722.64" y="2773.38" rotate="90" font-family='"Liberation Sans", sans-serif' font-size="36.5" stroke="#000" stroke-width="0.5">***</text>
<path d="M1006.2,2598.8 V2515.8 H1134 V2561.3" fill="none" stroke="#000" stroke-width="2.9" stroke-linejoin="round"/>
<text x="1037.24 1052.79 1068.34" y="2495.28" rotate="90" font-family='"Liberation Sans", sans-serif' font-size="36.5" stroke="#000" stroke-width="0.5">***</text>
<path d="M1068.7,2593 V2575.4 H1132.5 V2855" fill="none" stroke="#000" stroke-width="2.9" stroke-linejoin="round"/>
<text x="1072.82 1088.37" y="2552.88" rotate="90" font-family='"Liberation Sans", sans-serif' font-size="36.5" stroke="#000" stroke-width="0.5">**</text>
<path d="M1006.2,2663.8 V2608.5 H1070.4 V2794.8" fill="none" stroke="#000" stroke-width="2.9" stroke-linejoin="round"/>
<text x="1011.72 1027.27" y="2584.38" rotate="90" font-family='"Liberation Sans", sans-serif' font-size="36.5" stroke="#000" stroke-width="0.5">**</text>
<path d="M1323,2897 V2813.3 H1444.8 V2865.4" fill="none" stroke="#000" stroke-width="2.9" stroke-linejoin="round"/>
<text font-size="43" stroke="#000" stroke-width="0.35"><tspan x="1362.78" y="2804" textLength="55.29" lengthAdjust="spacingAndGlyphs">NS</tspan></text>
<path d="M1383.3,2895.2 V2877.7 H1444.8 V2998.5" fill="none" stroke="#000" stroke-width="2.9" stroke-linejoin="round"/>
<text font-size="43" stroke="#000" stroke-width="0.35"><tspan x="1386.98" y="2869.4" textLength="55.29" lengthAdjust="spacingAndGlyphs">NS</tspan></text>
<path d="M1324.2,2991.7 V2908 H1384.6 V2962.3" fill="none" stroke="#000" stroke-width="2.9" stroke-linejoin="round"/>
<text font-size="43" stroke="#000" stroke-width="0.35"><tspan x="1327.88" y="2901.5" textLength="55.29" lengthAdjust="spacingAndGlyphs">NS</tspan></text>
<path d="M1636.2,2268.8 V2157.3 H1764 V2218.8" fill="none" stroke="#000" stroke-width="2.9" stroke-linejoin="round"/>
<text x="1668.54 1684.09 1699.64" y="2133.88" rotate="90" font-family='"Liberation Sans", sans-serif' font-size="36.5" stroke="#000" stroke-width="0.5">***</text>
<path d="M1698.7,2261.2 V2236.9 H1762.5 V2656.5" fill="none" stroke="#000" stroke-width="2.9" stroke-linejoin="round"/>
<text x="1713.09" y="2213.88" rotate="90" font-family='"Liberation Sans", sans-serif' font-size="36.5" stroke="#000" stroke-width="0.5">*</text>
<path d="M1636.2,2333.7 V2280.4 H1700.4 V2503.7" fill="none" stroke="#000" stroke-width="2.9" stroke-linejoin="round"/>
<text x="1643.22 1658.77" y="2257.58" rotate="90" font-family='"Liberation Sans", sans-serif' font-size="36.5" stroke="#000" stroke-width="0.5">**</text>
<rect x="282.5" y="1904.6" width="1578.5" height="1278.4" fill="none" stroke="#000" stroke-width="4.6"/>
<line x1="257.7" y1="3066.5" x2="282.5" y2="3066.5" stroke="#000" stroke-width="4.6" stroke-linecap="butt"/>
<text font-size="54.3"><tspan x="212.97" y="3079" textLength="27.96" lengthAdjust="spacingAndGlyphs">0</tspan></text>
<line x1="257.7" y1="2834.12" x2="282.5" y2="2834.12" stroke="#000" stroke-width="4.6" stroke-linecap="butt"/>
<text font-size="54.3"><tspan x="213.81" y="2846.62" textLength="27.96" lengthAdjust="spacingAndGlyphs">2</tspan></text>
<line x1="257.7" y1="2601.74" x2="282.5" y2="2601.74" stroke="#000" stroke-width="4.6" stroke-linecap="butt"/>
<text font-size="54.3"><tspan x="211.57" y="2614.24" textLength="27.96" lengthAdjust="spacingAndGlyphs">4</tspan></text>
<line x1="257.7" y1="2369.36" x2="282.5" y2="2369.36" stroke="#000" stroke-width="4.6" stroke-linecap="butt"/>
<text font-size="54.3"><tspan x="212.41" y="2381.86" textLength="27.96" lengthAdjust="spacingAndGlyphs">6</tspan></text>
<line x1="257.7" y1="2136.98" x2="282.5" y2="2136.98" stroke="#000" stroke-width="4.6" stroke-linecap="butt"/>
<text font-size="54.3"><tspan x="212.97" y="2149.48" textLength="27.96" lengthAdjust="spacingAndGlyphs">8</tspan></text>
<line x1="257.7" y1="1904.6" x2="282.5" y2="1904.6" stroke="#000" stroke-width="4.6" stroke-linecap="butt"/>
<text font-size="54.3"><tspan x="185.01" y="1917.1" textLength="55.93" lengthAdjust="spacingAndGlyphs">10</tspan></text>
<line x1="270.2" y1="3182.69" x2="282.5" y2="3182.69" stroke="#000" stroke-width="4.6" stroke-linecap="butt"/>
<line x1="270.2" y1="2950.31" x2="282.5" y2="2950.31" stroke="#000" stroke-width="4.6" stroke-linecap="butt"/>
<line x1="270.2" y1="2717.93" x2="282.5" y2="2717.93" stroke="#000" stroke-width="4.6" stroke-linecap="butt"/>
<line x1="270.2" y1="2485.55" x2="282.5" y2="2485.55" stroke="#000" stroke-width="4.6" stroke-linecap="butt"/>
<line x1="270.2" y1="2253.17" x2="282.5" y2="2253.17" stroke="#000" stroke-width="4.6" stroke-linecap="butt"/>
<line x1="270.2" y1="2020.79" x2="282.5" y2="2020.79" stroke="#000" stroke-width="4.6" stroke-linecap="butt"/>
<line x1="440.4" y1="3183" x2="440.4" y2="3208.5" stroke="#000" stroke-width="4.6" stroke-linecap="butt"/>
<text font-size="56" stroke="#000" stroke-width="0.35"><tspan x="407.03" y="3294.3" textLength="67.92" lengthAdjust="spacingAndGlyphs">PE</tspan></text>
<line x1="756.1" y1="3183" x2="756.1" y2="3208.5" stroke="#000" stroke-width="4.6" stroke-linecap="butt"/>
<text font-size="56" stroke="#000" stroke-width="0.35"><tspan x="720.85" y="3294.3" textLength="74.42" lengthAdjust="spacingAndGlyphs">PC</tspan></text>
<line x1="1071.8" y1="3183" x2="1071.8" y2="3208.5" stroke="#000" stroke-width="4.6" stroke-linecap="butt"/>
<text font-size="56" stroke="#000" stroke-width="0.35"><tspan x="1029.42" y="3294.3" textLength="83.45" lengthAdjust="spacingAndGlyphs">SM</tspan></text>
<line x1="1387.5" y1="3183" x2="1387.5" y2="3208.5" stroke="#000" stroke-width="4.6" stroke-linecap="butt"/>
<text font-size="56" stroke="#000" stroke-width="0.35"><tspan x="1279.29" y="3294.3" textLength="62.54" lengthAdjust="spacingAndGlyphs">PS</tspan> <tspan x="1349.34" y="3292.7" font-size="48" textLength="30.87" lengthAdjust="spacingAndGlyphs">+</tspan> <tspan x="1392.71" y="3294.3" textLength="101.58" lengthAdjust="spacingAndGlyphs">LPC</tspan></text>
<line x1="1703.2" y1="3183" x2="1703.2" y2="3208.5" stroke="#000" stroke-width="4.6" stroke-linecap="butt"/>
<text font-size="56" stroke="#000" stroke-width="0.35"><tspan x="1591.28" y="3294.3" textLength="122.28" lengthAdjust="spacingAndGlyphs">Total</tspan> <tspan x="1727.86" y="3294.3" textLength="88.83" lengthAdjust="spacingAndGlyphs">PLs</tspan></text>
<text transform="translate(153.5 0) rotate(-90)" y="0" font-size="69" stroke="#000" stroke-width="0.35"><tspan x="-2989.06" textLength="447.58" lengthAdjust="spacingAndGlyphs">Concentrations</tspan> <tspan x="-2524.28" textLength="174.14" lengthAdjust="spacingAndGlyphs">(mg/g</tspan> <tspan x="-2333.24" textLength="120.07" lengthAdjust="spacingAndGlyphs">HM</tspan> <tspan x="-2199.17" textLength="100.25" lengthAdjust="spacingAndGlyphs">fat)</tspan></text>
<text font-size="102" stroke="#000" stroke-width="1.2"><tspan x="116.4" y="1867.3" textLength="55.65" lengthAdjust="spacingAndGlyphs">b</tspan></text>
<line x1="410.8" y1="1941.3" x2="410.8" y2="1993.5" stroke="#565656" stroke-width="4.6" stroke-linecap="butt"/>
<line x1="393.5" y1="1941.3" x2="428" y2="1941.3" stroke="#565656" stroke-width="4.6" stroke-linecap="butt"/>
<line x1="393.5" y1="1993.5" x2="428" y2="1993.5" stroke="#565656" stroke-width="4.6" stroke-linecap="butt"/>
<circle cx="410.8" cy="2030.1" r="12" fill="#565656"/>
<circle cx="410.8" cy="2093" r="3.5" fill="#f00"/>
<rect x="355.4" y="2128.8" width="110.8" height="54.8" fill="#ffd4ab" stroke="#ff8000" stroke-width="4.8" stroke-linejoin="round"/>
<rect x="355.4" y="2191.6" width="110.8" height="54.8" fill="#ade5bf" stroke="#0ab43c" stroke-width="4.8" stroke-linejoin="round"/>
<rect x="355.4" y="2254.4" width="110.8" height="54.8" fill="#d7c8e3" stroke="#8a5bb0" stroke-width="4.8" stroke-linejoin="round"/>
<text font-size="43.5" stroke="#000" stroke-width="0.35"><tspan x="476.76" y="1983.9" textLength="107.66" lengthAdjust="spacingAndGlyphs">Mean</tspan> <tspan x="593.05" y="1983.9" textLength="23.66" lengthAdjust="spacingAndGlyphs">±</tspan> <tspan x="626.33" y="1983.9" textLength="19.65" lengthAdjust="spacingAndGlyphs">1</tspan> <tspan x="656.19" y="1983.9" textLength="56.74" lengthAdjust="spacingAndGlyphs">SD</tspan></text>
<text font-size="43.5" stroke="#000" stroke-width="0.35"><tspan x="476.76" y="2046.5" textLength="107.66" lengthAdjust="spacingAndGlyphs">Mean</tspan></text>
<text font-size="43.5" stroke="#000" stroke-width="0.35"><tspan x="478.57" y="2109.4" textLength="88.24" lengthAdjust="spacingAndGlyphs">Data</tspan></text>
<text font-size="43.5" stroke="#000" stroke-width="0.35"><tspan x="478.34" y="2172.9" textLength="31.09" lengthAdjust="spacingAndGlyphs">A</tspan> <tspan x="520.66" y="2172.9" textLength="114.63" lengthAdjust="spacingAndGlyphs">group</tspan></text>
<text font-size="43.5" stroke="#000" stroke-width="0.35"><tspan x="478.86" y="2235.7" textLength="24.82" lengthAdjust="spacingAndGlyphs">B</tspan> <tspan x="513.45" y="2235.7" textLength="115.36" lengthAdjust="spacingAndGlyphs">group</tspan></text>
<text font-size="43.5" stroke="#000" stroke-width="0.35"><tspan x="476.8" y="2298.3" textLength="32.94" lengthAdjust="spacingAndGlyphs">C</tspan> <tspan x="517.54" y="2298.3" textLength="115.77" lengthAdjust="spacingAndGlyphs">group</tspan></text>
</svg>
</body></html>
